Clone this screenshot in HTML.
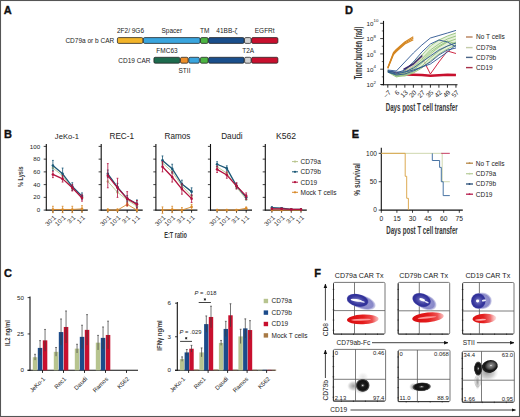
<!DOCTYPE html>
<html><head><meta charset="utf-8"><style>
html,body{margin:0;padding:0;background:#fff;}
svg{display:block;font-family:"Liberation Sans", sans-serif;}
</style></head><body>
<svg width="520" height="417" viewBox="0 0 520 417">
<defs><radialGradient id="gblue" cx="0.38" cy="0.45" r="0.62"><stop offset="0" stop-color="#ffffff"/><stop offset="0.12" stop-color="#d8d8f0"/><stop offset="0.3" stop-color="#6a6ab8"/><stop offset="0.55" stop-color="#38389a"/><stop offset="0.8" stop-color="#5656ac"/><stop offset="1" stop-color="#b4b4dc" stop-opacity="0.5"/></radialGradient><radialGradient id="gred" cx="0.45" cy="0.5" r="0.55"><stop offset="0" stop-color="#ffd0d0"/><stop offset="0.25" stop-color="#f04040"/><stop offset="0.6" stop-color="#e61414"/><stop offset="0.85" stop-color="#e82020"/><stop offset="1" stop-color="#f47070" stop-opacity="0.4"/></radialGradient><radialGradient id="gblk" cx="0.5" cy="0.5" r="0.5"><stop offset="0" stop-color="#ffffff"/><stop offset="0.14" stop-color="#555"/><stop offset="0.3" stop-color="#1a1a1a"/><stop offset="0.7" stop-color="#111"/><stop offset="0.88" stop-color="#555"/><stop offset="1" stop-color="#bbb" stop-opacity="0.2"/></radialGradient><radialGradient id="ghalo" cx="0.5" cy="0.5" r="0.5"><stop offset="0" stop-color="#777" stop-opacity="0.75"/><stop offset="0.6" stop-color="#999" stop-opacity="0.45"/><stop offset="1" stop-color="#ccc" stop-opacity="0"/></radialGradient><marker id="arr" viewBox="0 0 10 10" refX="9" refY="5" markerWidth="5.5" markerHeight="5.5" orient="auto"><path d="M0,1 L10,5 L0,9 z" fill="#111"/></marker><radialGradient id="gdark" cx="0.5" cy="0.5" r="0.5"><stop offset="0" stop-color="#8c8cd0"/><stop offset="0.4" stop-color="#5050ac"/><stop offset="0.7" stop-color="#36369c"/><stop offset="0.88" stop-color="#30309a"/><stop offset="1" stop-color="#4848a6" stop-opacity="0.85"/></radialGradient><radialGradient id="glight" cx="0.5" cy="0.5" r="0.5"><stop offset="0" stop-color="#9c9cd4"/><stop offset="0.8" stop-color="#8888c8"/><stop offset="1" stop-color="#c0c0e4" stop-opacity="0.6"/></radialGradient><linearGradient id="gredL" x1="0" y1="0" x2="1" y2="0"><stop offset="0" stop-color="#d80c10"/><stop offset="0.5" stop-color="#e41c1c"/><stop offset="0.8" stop-color="#ee5050"/><stop offset="1" stop-color="#f6a0a0" stop-opacity="0.7"/></linearGradient><linearGradient id="gredF" x1="0" y1="0" x2="1" y2="0"><stop offset="0" stop-color="#dc1010"/><stop offset="0.45" stop-color="#e42020"/><stop offset="0.75" stop-color="#f06a6a"/><stop offset="1" stop-color="#f8c0c0" stop-opacity="0.5"/></linearGradient><radialGradient id="gcres" cx="0.6" cy="0.45" r="0.6"><stop offset="0" stop-color="#ffffff"/><stop offset="0.12" stop-color="#888"/><stop offset="0.4" stop-color="#555"/><stop offset="0.65" stop-color="#151515"/><stop offset="0.88" stop-color="#222"/><stop offset="1" stop-color="#999" stop-opacity="0.3"/></radialGradient></defs>
<rect x="0" y="0" width="520" height="417" fill="#fff"/>
<text x="3.80" y="13.80" font-size="11" text-anchor="start" font-weight="bold" fill="#111" stroke="#111" stroke-width="0.35">A</text>
<text x="3.90" y="138.10" font-size="11" text-anchor="start" font-weight="bold" fill="#111" stroke="#111" stroke-width="0.35">B</text>
<text x="3.90" y="277.40" font-size="11" text-anchor="start" font-weight="bold" fill="#111" stroke="#111" stroke-width="0.35">C</text>
<text x="345.00" y="13.60" font-size="11" text-anchor="start" font-weight="bold" fill="#111" stroke="#111" stroke-width="0.35">D</text>
<text x="351.80" y="137.90" font-size="11" text-anchor="start" font-weight="bold" fill="#111" stroke="#111" stroke-width="0.35">E</text>
<text x="314.30" y="277.30" font-size="11" text-anchor="start" font-weight="bold" fill="#111" stroke="#111" stroke-width="0.35">F</text>
<rect x="117.40" y="37.60" width="25.50" height="5.80" rx="1.3" fill="#f2b42a" stroke="#222" stroke-width="0.75"/>
<rect x="143.40" y="37.60" width="56.70" height="5.80" rx="1.3" fill="#3aa5de" stroke="#222" stroke-width="0.75"/>
<rect x="200.50" y="37.60" width="7.60" height="5.80" rx="1.3" fill="#4db443" stroke="#222" stroke-width="0.75"/>
<rect x="208.60" y="37.60" width="35.50" height="5.80" rx="1.3" fill="#1a4f8c" stroke="#222" stroke-width="0.75"/>
<rect x="244.50" y="37.60" width="6.60" height="5.80" rx="1.3" fill="#d2d2d2" stroke="#222" stroke-width="0.75"/>
<rect x="251.60" y="37.60" width="26.30" height="5.80" rx="1.3" fill="#c8102e" stroke="#222" stroke-width="0.75"/>
<rect x="153.90" y="57.30" width="25.90" height="5.90" rx="1.3" fill="#1d6b4e" stroke="#222" stroke-width="0.75"/>
<rect x="180.50" y="57.30" width="7.60" height="5.90" rx="1.3" fill="#ec8e2a" stroke="#222" stroke-width="0.75"/>
<rect x="188.80" y="57.30" width="10.60" height="5.90" rx="1.3" fill="#3aa5de" stroke="#222" stroke-width="0.75"/>
<rect x="200.40" y="57.30" width="7.70" height="5.90" rx="1.3" fill="#4db443" stroke="#222" stroke-width="0.75"/>
<rect x="208.60" y="57.30" width="35.50" height="5.90" rx="1.3" fill="#1a4f8c" stroke="#222" stroke-width="0.75"/>
<rect x="244.60" y="57.30" width="6.50" height="5.90" rx="1.3" fill="#d2d2d2" stroke="#222" stroke-width="0.75"/>
<rect x="251.60" y="57.30" width="26.30" height="5.90" rx="1.3" fill="#c8102e" stroke="#222" stroke-width="0.75"/>
<text x="130.50" y="32.80" font-size="6.5" text-anchor="middle" font-weight="normal" fill="#222" >2F2/ 9G6</text>
<text x="171.80" y="32.80" font-size="6.5" text-anchor="middle" font-weight="normal" fill="#222" >Spacer</text>
<text x="204.70" y="32.80" font-size="6.5" text-anchor="middle" font-weight="normal" fill="#222" >TM</text>
<text x="226.80" y="32.80" font-size="6.5" text-anchor="middle" font-weight="normal" fill="#222" >41BB-ζ</text>
<text x="264.70" y="32.80" font-size="6.5" text-anchor="middle" font-weight="normal" fill="#222" >EGFRt</text>
<text x="114.20" y="42.60" font-size="6.5" text-anchor="end" font-weight="normal" fill="#222" >CD79a or b CAR</text>
<text x="167.00" y="52.50" font-size="6.5" text-anchor="middle" font-weight="normal" fill="#222" >FMC63</text>
<text x="248.20" y="52.50" font-size="6.5" text-anchor="middle" font-weight="normal" fill="#222" >T2A</text>
<text x="150.50" y="62.50" font-size="6.5" text-anchor="end" font-weight="normal" fill="#222" >CD19 CAR</text>
<text x="184.50" y="72.50" font-size="6.5" text-anchor="middle" font-weight="normal" fill="#222" >STII</text>
<line x1="46.30" y1="144.00" x2="46.30" y2="210.60" stroke="#111" stroke-width="1.1" />
<line x1="45.80" y1="210.10" x2="87.80" y2="210.10" stroke="#111" stroke-width="1.1" />
<line x1="43.70" y1="210.10" x2="46.30" y2="210.10" stroke="#111" stroke-width="0.8" />
<line x1="43.70" y1="197.36" x2="46.30" y2="197.36" stroke="#111" stroke-width="0.8" />
<line x1="43.70" y1="184.62" x2="46.30" y2="184.62" stroke="#111" stroke-width="0.8" />
<line x1="43.70" y1="171.88" x2="46.30" y2="171.88" stroke="#111" stroke-width="0.8" />
<line x1="43.70" y1="159.14" x2="46.30" y2="159.14" stroke="#111" stroke-width="0.8" />
<line x1="43.70" y1="146.40" x2="46.30" y2="146.40" stroke="#111" stroke-width="0.8" />
<line x1="52.90" y1="210.10" x2="52.90" y2="212.70" stroke="#111" stroke-width="0.9" />
<line x1="62.60" y1="210.10" x2="62.60" y2="212.70" stroke="#111" stroke-width="0.9" />
<line x1="72.30" y1="210.10" x2="72.30" y2="212.70" stroke="#111" stroke-width="0.9" />
<line x1="82.00" y1="210.10" x2="82.00" y2="212.70" stroke="#111" stroke-width="0.9" />
<text x="56.50" y="217.90" font-size="6.3" text-anchor="end" fill="#222" transform="rotate(-45 56.50 217.90)">30:1</text>
<text x="66.20" y="217.90" font-size="6.3" text-anchor="end" fill="#222" transform="rotate(-45 66.20 217.90)">10:1</text>
<text x="75.90" y="217.90" font-size="6.3" text-anchor="end" fill="#222" transform="rotate(-45 75.90 217.90)">3:1</text>
<text x="85.60" y="217.90" font-size="6.3" text-anchor="end" fill="#222" transform="rotate(-45 85.60 217.90)">1:1</text>
<text x="66.90" y="138.80" font-size="7.6" text-anchor="middle" font-weight="normal" fill="#222" >JeKo-1</text>
<line x1="52.90" y1="206.28" x2="52.90" y2="212.65" stroke="#d98a2a" stroke-width="0.8" />
<line x1="52.00" y1="206.28" x2="53.80" y2="206.28" stroke="#d98a2a" stroke-width="0.8" />
<line x1="52.00" y1="212.65" x2="53.80" y2="212.65" stroke="#d98a2a" stroke-width="0.8" />
<line x1="62.60" y1="206.28" x2="62.60" y2="212.65" stroke="#d98a2a" stroke-width="0.8" />
<line x1="61.70" y1="206.28" x2="63.50" y2="206.28" stroke="#d98a2a" stroke-width="0.8" />
<line x1="61.70" y1="212.65" x2="63.50" y2="212.65" stroke="#d98a2a" stroke-width="0.8" />
<line x1="72.30" y1="206.28" x2="72.30" y2="212.65" stroke="#d98a2a" stroke-width="0.8" />
<line x1="71.40" y1="206.28" x2="73.20" y2="206.28" stroke="#d98a2a" stroke-width="0.8" />
<line x1="71.40" y1="212.65" x2="73.20" y2="212.65" stroke="#d98a2a" stroke-width="0.8" />
<line x1="82.00" y1="205.64" x2="82.00" y2="212.01" stroke="#d98a2a" stroke-width="0.8" />
<line x1="81.10" y1="205.64" x2="82.90" y2="205.64" stroke="#d98a2a" stroke-width="0.8" />
<line x1="81.10" y1="212.01" x2="82.90" y2="212.01" stroke="#d98a2a" stroke-width="0.8" />
<polyline points="52.90,209.46 62.60,209.46 72.30,209.46 82.00,208.83" fill="none" stroke="#d98a2a" stroke-width="0.9" stroke-linejoin="round" />
<circle cx="52.90" cy="209.46" r="1.3" fill="#d98a2a"/>
<circle cx="62.60" cy="209.46" r="1.3" fill="#d98a2a"/>
<circle cx="72.30" cy="209.46" r="1.3" fill="#d98a2a"/>
<circle cx="82.00" cy="208.83" r="1.3" fill="#d98a2a"/>
<polyline points="52.90,168.06 62.60,175.70 72.30,188.44 82.00,197.36" fill="none" stroke="#b9c58e" stroke-width="0.9" stroke-linejoin="round" />
<circle cx="52.90" cy="168.06" r="1.3" fill="#b9c58e"/>
<circle cx="62.60" cy="175.70" r="1.3" fill="#b9c58e"/>
<circle cx="72.30" cy="188.44" r="1.3" fill="#b9c58e"/>
<circle cx="82.00" cy="197.36" r="1.3" fill="#b9c58e"/>
<line x1="52.90" y1="160.41" x2="52.90" y2="170.61" stroke="#1b5877" stroke-width="0.8" />
<line x1="52.00" y1="160.41" x2="53.80" y2="160.41" stroke="#1b5877" stroke-width="0.8" />
<line x1="52.00" y1="170.61" x2="53.80" y2="170.61" stroke="#1b5877" stroke-width="0.8" />
<line x1="62.60" y1="168.06" x2="62.60" y2="179.52" stroke="#1b5877" stroke-width="0.8" />
<line x1="61.70" y1="168.06" x2="63.50" y2="168.06" stroke="#1b5877" stroke-width="0.8" />
<line x1="61.70" y1="179.52" x2="63.50" y2="179.52" stroke="#1b5877" stroke-width="0.8" />
<line x1="72.30" y1="182.71" x2="72.30" y2="190.35" stroke="#1b5877" stroke-width="0.8" />
<line x1="71.40" y1="182.71" x2="73.20" y2="182.71" stroke="#1b5877" stroke-width="0.8" />
<line x1="71.40" y1="190.35" x2="73.20" y2="190.35" stroke="#1b5877" stroke-width="0.8" />
<line x1="82.00" y1="192.90" x2="82.00" y2="199.27" stroke="#1b5877" stroke-width="0.8" />
<line x1="81.10" y1="192.90" x2="82.90" y2="192.90" stroke="#1b5877" stroke-width="0.8" />
<line x1="81.10" y1="199.27" x2="82.90" y2="199.27" stroke="#1b5877" stroke-width="0.8" />
<polyline points="52.90,165.51 62.60,173.79 72.30,186.53 82.00,196.09" fill="none" stroke="#1b5877" stroke-width="1.3" stroke-linejoin="round" />
<circle cx="52.90" cy="165.51" r="1.3" fill="#1b5877"/>
<circle cx="62.60" cy="173.79" r="1.3" fill="#1b5877"/>
<circle cx="72.30" cy="186.53" r="1.3" fill="#1b5877"/>
<circle cx="82.00" cy="196.09" r="1.3" fill="#1b5877"/>
<line x1="52.90" y1="171.24" x2="52.90" y2="177.61" stroke="#b3123f" stroke-width="0.8" />
<line x1="52.00" y1="171.24" x2="53.80" y2="171.24" stroke="#b3123f" stroke-width="0.8" />
<line x1="52.00" y1="177.61" x2="53.80" y2="177.61" stroke="#b3123f" stroke-width="0.8" />
<line x1="62.60" y1="175.70" x2="62.60" y2="182.07" stroke="#b3123f" stroke-width="0.8" />
<line x1="61.70" y1="175.70" x2="63.50" y2="175.70" stroke="#b3123f" stroke-width="0.8" />
<line x1="61.70" y1="182.07" x2="63.50" y2="182.07" stroke="#b3123f" stroke-width="0.8" />
<line x1="72.30" y1="184.62" x2="72.30" y2="190.99" stroke="#b3123f" stroke-width="0.8" />
<line x1="71.40" y1="184.62" x2="73.20" y2="184.62" stroke="#b3123f" stroke-width="0.8" />
<line x1="71.40" y1="190.99" x2="73.20" y2="190.99" stroke="#b3123f" stroke-width="0.8" />
<line x1="82.00" y1="194.81" x2="82.00" y2="201.18" stroke="#b3123f" stroke-width="0.8" />
<line x1="81.10" y1="194.81" x2="82.90" y2="194.81" stroke="#b3123f" stroke-width="0.8" />
<line x1="81.10" y1="201.18" x2="82.90" y2="201.18" stroke="#b3123f" stroke-width="0.8" />
<polyline points="52.90,174.43 62.60,178.89 72.30,187.81 82.00,198.00" fill="none" stroke="#b3123f" stroke-width="1.3" stroke-linejoin="round" />
<circle cx="52.90" cy="174.43" r="1.3" fill="#b3123f"/>
<circle cx="62.60" cy="178.89" r="1.3" fill="#b3123f"/>
<circle cx="72.30" cy="187.81" r="1.3" fill="#b3123f"/>
<circle cx="82.00" cy="198.00" r="1.3" fill="#b3123f"/>
<line x1="101.20" y1="144.00" x2="101.20" y2="210.60" stroke="#111" stroke-width="1.1" />
<line x1="100.70" y1="210.10" x2="142.70" y2="210.10" stroke="#111" stroke-width="1.1" />
<line x1="98.60" y1="210.10" x2="101.20" y2="210.10" stroke="#111" stroke-width="0.8" />
<line x1="98.60" y1="197.36" x2="101.20" y2="197.36" stroke="#111" stroke-width="0.8" />
<line x1="98.60" y1="184.62" x2="101.20" y2="184.62" stroke="#111" stroke-width="0.8" />
<line x1="98.60" y1="171.88" x2="101.20" y2="171.88" stroke="#111" stroke-width="0.8" />
<line x1="98.60" y1="159.14" x2="101.20" y2="159.14" stroke="#111" stroke-width="0.8" />
<line x1="98.60" y1="146.40" x2="101.20" y2="146.40" stroke="#111" stroke-width="0.8" />
<line x1="107.80" y1="210.10" x2="107.80" y2="212.70" stroke="#111" stroke-width="0.9" />
<line x1="117.50" y1="210.10" x2="117.50" y2="212.70" stroke="#111" stroke-width="0.9" />
<line x1="127.20" y1="210.10" x2="127.20" y2="212.70" stroke="#111" stroke-width="0.9" />
<line x1="136.90" y1="210.10" x2="136.90" y2="212.70" stroke="#111" stroke-width="0.9" />
<text x="111.40" y="217.90" font-size="6.3" text-anchor="end" fill="#222" transform="rotate(-45 111.40 217.90)">30:1</text>
<text x="121.10" y="217.90" font-size="6.3" text-anchor="end" fill="#222" transform="rotate(-45 121.10 217.90)">10:1</text>
<text x="130.80" y="217.90" font-size="6.3" text-anchor="end" fill="#222" transform="rotate(-45 130.80 217.90)">3:1</text>
<text x="140.50" y="217.90" font-size="6.3" text-anchor="end" fill="#222" transform="rotate(-45 140.50 217.90)">1:1</text>
<text x="121.80" y="138.80" font-size="8.2" text-anchor="middle" font-weight="normal" fill="#222" >REC-1</text>
<line x1="107.80" y1="208.83" x2="107.80" y2="211.37" stroke="#d98a2a" stroke-width="0.8" />
<line x1="106.90" y1="208.83" x2="108.70" y2="208.83" stroke="#d98a2a" stroke-width="0.8" />
<line x1="106.90" y1="211.37" x2="108.70" y2="211.37" stroke="#d98a2a" stroke-width="0.8" />
<line x1="117.50" y1="208.83" x2="117.50" y2="211.37" stroke="#d98a2a" stroke-width="0.8" />
<line x1="116.60" y1="208.83" x2="118.40" y2="208.83" stroke="#d98a2a" stroke-width="0.8" />
<line x1="116.60" y1="211.37" x2="118.40" y2="211.37" stroke="#d98a2a" stroke-width="0.8" />
<line x1="127.20" y1="202.46" x2="127.20" y2="206.28" stroke="#d98a2a" stroke-width="0.8" />
<line x1="126.30" y1="202.46" x2="128.10" y2="202.46" stroke="#d98a2a" stroke-width="0.8" />
<line x1="126.30" y1="206.28" x2="128.10" y2="206.28" stroke="#d98a2a" stroke-width="0.8" />
<line x1="136.90" y1="208.83" x2="136.90" y2="211.37" stroke="#d98a2a" stroke-width="0.8" />
<line x1="136.00" y1="208.83" x2="137.80" y2="208.83" stroke="#d98a2a" stroke-width="0.8" />
<line x1="136.00" y1="211.37" x2="137.80" y2="211.37" stroke="#d98a2a" stroke-width="0.8" />
<polyline points="107.80,210.10 117.50,210.10 127.20,204.37 136.90,210.10" fill="none" stroke="#d98a2a" stroke-width="0.9" stroke-linejoin="round" />
<circle cx="107.80" cy="210.10" r="1.3" fill="#d98a2a"/>
<circle cx="117.50" cy="210.10" r="1.3" fill="#d98a2a"/>
<circle cx="127.20" cy="204.37" r="1.3" fill="#d98a2a"/>
<circle cx="136.90" cy="210.10" r="1.3" fill="#d98a2a"/>
<polyline points="107.80,181.44 117.50,192.26 127.20,199.91 136.90,206.28" fill="none" stroke="#b9c58e" stroke-width="0.9" stroke-linejoin="round" />
<circle cx="107.80" cy="181.44" r="1.3" fill="#b9c58e"/>
<circle cx="117.50" cy="192.26" r="1.3" fill="#b9c58e"/>
<circle cx="127.20" cy="199.91" r="1.3" fill="#b9c58e"/>
<circle cx="136.90" cy="206.28" r="1.3" fill="#b9c58e"/>
<line x1="107.80" y1="169.97" x2="107.80" y2="177.61" stroke="#1b5877" stroke-width="0.8" />
<line x1="106.90" y1="169.97" x2="108.70" y2="169.97" stroke="#1b5877" stroke-width="0.8" />
<line x1="106.90" y1="177.61" x2="108.70" y2="177.61" stroke="#1b5877" stroke-width="0.8" />
<line x1="117.50" y1="183.35" x2="117.50" y2="190.99" stroke="#1b5877" stroke-width="0.8" />
<line x1="116.60" y1="183.35" x2="118.40" y2="183.35" stroke="#1b5877" stroke-width="0.8" />
<line x1="116.60" y1="190.99" x2="118.40" y2="190.99" stroke="#1b5877" stroke-width="0.8" />
<line x1="127.20" y1="195.45" x2="127.20" y2="201.82" stroke="#1b5877" stroke-width="0.8" />
<line x1="126.30" y1="195.45" x2="128.10" y2="195.45" stroke="#1b5877" stroke-width="0.8" />
<line x1="126.30" y1="201.82" x2="128.10" y2="201.82" stroke="#1b5877" stroke-width="0.8" />
<line x1="136.90" y1="199.91" x2="136.90" y2="207.55" stroke="#1b5877" stroke-width="0.8" />
<line x1="136.00" y1="199.91" x2="137.80" y2="199.91" stroke="#1b5877" stroke-width="0.8" />
<line x1="136.00" y1="207.55" x2="137.80" y2="207.55" stroke="#1b5877" stroke-width="0.8" />
<polyline points="107.80,173.79 117.50,187.17 127.20,198.63 136.90,203.73" fill="none" stroke="#1b5877" stroke-width="1.3" stroke-linejoin="round" />
<circle cx="107.80" cy="173.79" r="1.3" fill="#1b5877"/>
<circle cx="117.50" cy="187.17" r="1.3" fill="#1b5877"/>
<circle cx="127.20" cy="198.63" r="1.3" fill="#1b5877"/>
<circle cx="136.90" cy="203.73" r="1.3" fill="#1b5877"/>
<line x1="107.80" y1="163.60" x2="107.80" y2="187.81" stroke="#b3123f" stroke-width="0.8" />
<line x1="106.90" y1="163.60" x2="108.70" y2="163.60" stroke="#b3123f" stroke-width="0.8" />
<line x1="106.90" y1="187.81" x2="108.70" y2="187.81" stroke="#b3123f" stroke-width="0.8" />
<line x1="117.50" y1="178.25" x2="117.50" y2="197.36" stroke="#b3123f" stroke-width="0.8" />
<line x1="116.60" y1="178.25" x2="118.40" y2="178.25" stroke="#b3123f" stroke-width="0.8" />
<line x1="116.60" y1="197.36" x2="118.40" y2="197.36" stroke="#b3123f" stroke-width="0.8" />
<line x1="127.20" y1="191.63" x2="127.20" y2="205.64" stroke="#b3123f" stroke-width="0.8" />
<line x1="126.30" y1="191.63" x2="128.10" y2="191.63" stroke="#b3123f" stroke-width="0.8" />
<line x1="126.30" y1="205.64" x2="128.10" y2="205.64" stroke="#b3123f" stroke-width="0.8" />
<line x1="136.90" y1="200.54" x2="136.90" y2="208.19" stroke="#b3123f" stroke-width="0.8" />
<line x1="136.00" y1="200.54" x2="137.80" y2="200.54" stroke="#b3123f" stroke-width="0.8" />
<line x1="136.00" y1="208.19" x2="137.80" y2="208.19" stroke="#b3123f" stroke-width="0.8" />
<polyline points="107.80,175.70 117.50,187.81 127.20,198.63 136.90,204.37" fill="none" stroke="#b3123f" stroke-width="1.3" stroke-linejoin="round" />
<circle cx="107.80" cy="175.70" r="1.3" fill="#b3123f"/>
<circle cx="117.50" cy="187.81" r="1.3" fill="#b3123f"/>
<circle cx="127.20" cy="198.63" r="1.3" fill="#b3123f"/>
<circle cx="136.90" cy="204.37" r="1.3" fill="#b3123f"/>
<line x1="155.90" y1="144.00" x2="155.90" y2="210.60" stroke="#111" stroke-width="1.1" />
<line x1="155.40" y1="210.10" x2="197.40" y2="210.10" stroke="#111" stroke-width="1.1" />
<line x1="153.30" y1="210.10" x2="155.90" y2="210.10" stroke="#111" stroke-width="0.8" />
<line x1="153.30" y1="197.36" x2="155.90" y2="197.36" stroke="#111" stroke-width="0.8" />
<line x1="153.30" y1="184.62" x2="155.90" y2="184.62" stroke="#111" stroke-width="0.8" />
<line x1="153.30" y1="171.88" x2="155.90" y2="171.88" stroke="#111" stroke-width="0.8" />
<line x1="153.30" y1="159.14" x2="155.90" y2="159.14" stroke="#111" stroke-width="0.8" />
<line x1="153.30" y1="146.40" x2="155.90" y2="146.40" stroke="#111" stroke-width="0.8" />
<line x1="162.50" y1="210.10" x2="162.50" y2="212.70" stroke="#111" stroke-width="0.9" />
<line x1="172.20" y1="210.10" x2="172.20" y2="212.70" stroke="#111" stroke-width="0.9" />
<line x1="181.90" y1="210.10" x2="181.90" y2="212.70" stroke="#111" stroke-width="0.9" />
<line x1="191.60" y1="210.10" x2="191.60" y2="212.70" stroke="#111" stroke-width="0.9" />
<text x="166.10" y="217.90" font-size="6.3" text-anchor="end" fill="#222" transform="rotate(-45 166.10 217.90)">30:1</text>
<text x="175.80" y="217.90" font-size="6.3" text-anchor="end" fill="#222" transform="rotate(-45 175.80 217.90)">10:1</text>
<text x="185.50" y="217.90" font-size="6.3" text-anchor="end" fill="#222" transform="rotate(-45 185.50 217.90)">3:1</text>
<text x="195.20" y="217.90" font-size="6.3" text-anchor="end" fill="#222" transform="rotate(-45 195.20 217.90)">1:1</text>
<text x="177.50" y="138.80" font-size="8.2" text-anchor="middle" font-weight="normal" fill="#222" >Ramos</text>
<line x1="162.50" y1="206.91" x2="162.50" y2="213.28" stroke="#d98a2a" stroke-width="0.8" />
<line x1="161.60" y1="206.91" x2="163.40" y2="206.91" stroke="#d98a2a" stroke-width="0.8" />
<line x1="161.60" y1="213.28" x2="163.40" y2="213.28" stroke="#d98a2a" stroke-width="0.8" />
<line x1="172.20" y1="206.28" x2="172.20" y2="212.65" stroke="#d98a2a" stroke-width="0.8" />
<line x1="171.30" y1="206.28" x2="173.10" y2="206.28" stroke="#d98a2a" stroke-width="0.8" />
<line x1="171.30" y1="212.65" x2="173.10" y2="212.65" stroke="#d98a2a" stroke-width="0.8" />
<line x1="181.90" y1="207.55" x2="181.90" y2="212.65" stroke="#d98a2a" stroke-width="0.8" />
<line x1="181.00" y1="207.55" x2="182.80" y2="207.55" stroke="#d98a2a" stroke-width="0.8" />
<line x1="181.00" y1="212.65" x2="182.80" y2="212.65" stroke="#d98a2a" stroke-width="0.8" />
<line x1="191.60" y1="204.37" x2="191.60" y2="209.46" stroke="#d98a2a" stroke-width="0.8" />
<line x1="190.70" y1="204.37" x2="192.50" y2="204.37" stroke="#d98a2a" stroke-width="0.8" />
<line x1="190.70" y1="209.46" x2="192.50" y2="209.46" stroke="#d98a2a" stroke-width="0.8" />
<polyline points="162.50,210.10 172.20,209.46 181.90,210.10 191.60,206.91" fill="none" stroke="#d98a2a" stroke-width="0.9" stroke-linejoin="round" />
<circle cx="162.50" cy="210.10" r="1.3" fill="#d98a2a"/>
<circle cx="172.20" cy="209.46" r="1.3" fill="#d98a2a"/>
<circle cx="181.90" cy="210.10" r="1.3" fill="#d98a2a"/>
<circle cx="191.60" cy="206.91" r="1.3" fill="#d98a2a"/>
<polyline points="162.50,162.96 172.20,171.88 181.90,185.89 191.60,196.09" fill="none" stroke="#b9c58e" stroke-width="0.9" stroke-linejoin="round" />
<circle cx="162.50" cy="162.96" r="1.3" fill="#b9c58e"/>
<circle cx="172.20" cy="171.88" r="1.3" fill="#b9c58e"/>
<circle cx="181.90" cy="185.89" r="1.3" fill="#b9c58e"/>
<circle cx="191.60" cy="196.09" r="1.3" fill="#b9c58e"/>
<line x1="162.50" y1="155.95" x2="162.50" y2="164.87" stroke="#1b5877" stroke-width="0.8" />
<line x1="161.60" y1="155.95" x2="163.40" y2="155.95" stroke="#1b5877" stroke-width="0.8" />
<line x1="161.60" y1="164.87" x2="163.40" y2="164.87" stroke="#1b5877" stroke-width="0.8" />
<line x1="172.20" y1="164.24" x2="172.20" y2="173.15" stroke="#1b5877" stroke-width="0.8" />
<line x1="171.30" y1="164.24" x2="173.10" y2="164.24" stroke="#1b5877" stroke-width="0.8" />
<line x1="171.30" y1="173.15" x2="173.10" y2="173.15" stroke="#1b5877" stroke-width="0.8" />
<line x1="181.90" y1="180.16" x2="181.90" y2="187.81" stroke="#1b5877" stroke-width="0.8" />
<line x1="181.00" y1="180.16" x2="182.80" y2="180.16" stroke="#1b5877" stroke-width="0.8" />
<line x1="181.00" y1="187.81" x2="182.80" y2="187.81" stroke="#1b5877" stroke-width="0.8" />
<line x1="191.60" y1="187.81" x2="191.60" y2="195.45" stroke="#1b5877" stroke-width="0.8" />
<line x1="190.70" y1="187.81" x2="192.50" y2="187.81" stroke="#1b5877" stroke-width="0.8" />
<line x1="190.70" y1="195.45" x2="192.50" y2="195.45" stroke="#1b5877" stroke-width="0.8" />
<polyline points="162.50,160.41 172.20,168.69 181.90,183.98 191.60,191.63" fill="none" stroke="#1b5877" stroke-width="1.3" stroke-linejoin="round" />
<circle cx="162.50" cy="160.41" r="1.3" fill="#1b5877"/>
<circle cx="172.20" cy="168.69" r="1.3" fill="#1b5877"/>
<circle cx="181.90" cy="183.98" r="1.3" fill="#1b5877"/>
<circle cx="191.60" cy="191.63" r="1.3" fill="#1b5877"/>
<line x1="162.50" y1="161.69" x2="162.50" y2="171.88" stroke="#b3123f" stroke-width="0.8" />
<line x1="161.60" y1="161.69" x2="163.40" y2="161.69" stroke="#b3123f" stroke-width="0.8" />
<line x1="161.60" y1="171.88" x2="163.40" y2="171.88" stroke="#b3123f" stroke-width="0.8" />
<line x1="172.20" y1="171.88" x2="172.20" y2="182.07" stroke="#b3123f" stroke-width="0.8" />
<line x1="171.30" y1="171.88" x2="173.10" y2="171.88" stroke="#b3123f" stroke-width="0.8" />
<line x1="171.30" y1="182.07" x2="173.10" y2="182.07" stroke="#b3123f" stroke-width="0.8" />
<line x1="181.90" y1="183.98" x2="181.90" y2="194.18" stroke="#b3123f" stroke-width="0.8" />
<line x1="181.00" y1="183.98" x2="182.80" y2="183.98" stroke="#b3123f" stroke-width="0.8" />
<line x1="181.00" y1="194.18" x2="182.80" y2="194.18" stroke="#b3123f" stroke-width="0.8" />
<line x1="191.60" y1="194.81" x2="191.60" y2="202.46" stroke="#b3123f" stroke-width="0.8" />
<line x1="190.70" y1="194.81" x2="192.50" y2="194.81" stroke="#b3123f" stroke-width="0.8" />
<line x1="190.70" y1="202.46" x2="192.50" y2="202.46" stroke="#b3123f" stroke-width="0.8" />
<polyline points="162.50,166.78 172.20,176.98 181.90,189.08 191.60,198.63" fill="none" stroke="#b3123f" stroke-width="1.3" stroke-linejoin="round" />
<circle cx="162.50" cy="166.78" r="1.3" fill="#b3123f"/>
<circle cx="172.20" cy="176.98" r="1.3" fill="#b3123f"/>
<circle cx="181.90" cy="189.08" r="1.3" fill="#b3123f"/>
<circle cx="191.60" cy="198.63" r="1.3" fill="#b3123f"/>
<line x1="210.50" y1="144.00" x2="210.50" y2="210.60" stroke="#111" stroke-width="1.1" />
<line x1="210.00" y1="210.10" x2="252.00" y2="210.10" stroke="#111" stroke-width="1.1" />
<line x1="207.90" y1="210.10" x2="210.50" y2="210.10" stroke="#111" stroke-width="0.8" />
<line x1="207.90" y1="197.36" x2="210.50" y2="197.36" stroke="#111" stroke-width="0.8" />
<line x1="207.90" y1="184.62" x2="210.50" y2="184.62" stroke="#111" stroke-width="0.8" />
<line x1="207.90" y1="171.88" x2="210.50" y2="171.88" stroke="#111" stroke-width="0.8" />
<line x1="207.90" y1="159.14" x2="210.50" y2="159.14" stroke="#111" stroke-width="0.8" />
<line x1="207.90" y1="146.40" x2="210.50" y2="146.40" stroke="#111" stroke-width="0.8" />
<line x1="217.10" y1="210.10" x2="217.10" y2="212.70" stroke="#111" stroke-width="0.9" />
<line x1="226.80" y1="210.10" x2="226.80" y2="212.70" stroke="#111" stroke-width="0.9" />
<line x1="236.50" y1="210.10" x2="236.50" y2="212.70" stroke="#111" stroke-width="0.9" />
<line x1="246.20" y1="210.10" x2="246.20" y2="212.70" stroke="#111" stroke-width="0.9" />
<text x="220.70" y="217.90" font-size="6.3" text-anchor="end" fill="#222" transform="rotate(-45 220.70 217.90)">30:1</text>
<text x="230.40" y="217.90" font-size="6.3" text-anchor="end" fill="#222" transform="rotate(-45 230.40 217.90)">10:1</text>
<text x="240.10" y="217.90" font-size="6.3" text-anchor="end" fill="#222" transform="rotate(-45 240.10 217.90)">3:1</text>
<text x="249.80" y="217.90" font-size="6.3" text-anchor="end" fill="#222" transform="rotate(-45 249.80 217.90)">1:1</text>
<text x="231.90" y="138.80" font-size="8.2" text-anchor="middle" font-weight="normal" fill="#222" >Daudi</text>
<line x1="217.10" y1="209.46" x2="217.10" y2="210.74" stroke="#d98a2a" stroke-width="0.8" />
<line x1="216.20" y1="209.46" x2="218.00" y2="209.46" stroke="#d98a2a" stroke-width="0.8" />
<line x1="216.20" y1="210.74" x2="218.00" y2="210.74" stroke="#d98a2a" stroke-width="0.8" />
<line x1="226.80" y1="209.46" x2="226.80" y2="210.74" stroke="#d98a2a" stroke-width="0.8" />
<line x1="225.90" y1="209.46" x2="227.70" y2="209.46" stroke="#d98a2a" stroke-width="0.8" />
<line x1="225.90" y1="210.74" x2="227.70" y2="210.74" stroke="#d98a2a" stroke-width="0.8" />
<line x1="236.50" y1="209.46" x2="236.50" y2="210.74" stroke="#d98a2a" stroke-width="0.8" />
<line x1="235.60" y1="209.46" x2="237.40" y2="209.46" stroke="#d98a2a" stroke-width="0.8" />
<line x1="235.60" y1="210.74" x2="237.40" y2="210.74" stroke="#d98a2a" stroke-width="0.8" />
<line x1="246.20" y1="206.91" x2="246.20" y2="209.46" stroke="#d98a2a" stroke-width="0.8" />
<line x1="245.30" y1="206.91" x2="247.10" y2="206.91" stroke="#d98a2a" stroke-width="0.8" />
<line x1="245.30" y1="209.46" x2="247.10" y2="209.46" stroke="#d98a2a" stroke-width="0.8" />
<polyline points="217.10,210.10 226.80,210.10 236.50,210.10 246.20,208.19" fill="none" stroke="#d98a2a" stroke-width="0.9" stroke-linejoin="round" />
<circle cx="217.10" cy="210.10" r="1.3" fill="#d98a2a"/>
<circle cx="226.80" cy="210.10" r="1.3" fill="#d98a2a"/>
<circle cx="236.50" cy="210.10" r="1.3" fill="#d98a2a"/>
<circle cx="246.20" cy="208.19" r="1.3" fill="#d98a2a"/>
<polyline points="217.10,166.78 226.80,173.15 236.50,187.17 246.20,199.27" fill="none" stroke="#b9c58e" stroke-width="0.9" stroke-linejoin="round" />
<circle cx="217.10" cy="166.78" r="1.3" fill="#b9c58e"/>
<circle cx="226.80" cy="173.15" r="1.3" fill="#b9c58e"/>
<circle cx="236.50" cy="187.17" r="1.3" fill="#b9c58e"/>
<circle cx="246.20" cy="199.27" r="1.3" fill="#b9c58e"/>
<line x1="217.10" y1="161.69" x2="217.10" y2="166.78" stroke="#1b5877" stroke-width="0.8" />
<line x1="216.20" y1="161.69" x2="218.00" y2="161.69" stroke="#1b5877" stroke-width="0.8" />
<line x1="216.20" y1="166.78" x2="218.00" y2="166.78" stroke="#1b5877" stroke-width="0.8" />
<line x1="226.80" y1="165.83" x2="226.80" y2="170.92" stroke="#1b5877" stroke-width="0.8" />
<line x1="225.90" y1="165.83" x2="227.70" y2="165.83" stroke="#1b5877" stroke-width="0.8" />
<line x1="225.90" y1="170.92" x2="227.70" y2="170.92" stroke="#1b5877" stroke-width="0.8" />
<line x1="236.50" y1="183.35" x2="236.50" y2="188.44" stroke="#1b5877" stroke-width="0.8" />
<line x1="235.60" y1="183.35" x2="237.40" y2="183.35" stroke="#1b5877" stroke-width="0.8" />
<line x1="235.60" y1="188.44" x2="237.40" y2="188.44" stroke="#1b5877" stroke-width="0.8" />
<line x1="246.20" y1="194.81" x2="246.20" y2="199.91" stroke="#1b5877" stroke-width="0.8" />
<line x1="245.30" y1="194.81" x2="247.10" y2="194.81" stroke="#1b5877" stroke-width="0.8" />
<line x1="245.30" y1="199.91" x2="247.10" y2="199.91" stroke="#1b5877" stroke-width="0.8" />
<polyline points="217.10,164.24 226.80,168.38 236.50,185.89 246.20,197.36" fill="none" stroke="#1b5877" stroke-width="1.3" stroke-linejoin="round" />
<circle cx="217.10" cy="164.24" r="1.3" fill="#1b5877"/>
<circle cx="226.80" cy="168.38" r="1.3" fill="#1b5877"/>
<circle cx="236.50" cy="185.89" r="1.3" fill="#1b5877"/>
<circle cx="246.20" cy="197.36" r="1.3" fill="#1b5877"/>
<line x1="217.10" y1="166.15" x2="217.10" y2="172.52" stroke="#b3123f" stroke-width="0.8" />
<line x1="216.20" y1="166.15" x2="218.00" y2="166.15" stroke="#b3123f" stroke-width="0.8" />
<line x1="216.20" y1="172.52" x2="218.00" y2="172.52" stroke="#b3123f" stroke-width="0.8" />
<line x1="226.80" y1="171.88" x2="226.80" y2="178.25" stroke="#b3123f" stroke-width="0.8" />
<line x1="225.90" y1="171.88" x2="227.70" y2="171.88" stroke="#b3123f" stroke-width="0.8" />
<line x1="225.90" y1="178.25" x2="227.70" y2="178.25" stroke="#b3123f" stroke-width="0.8" />
<line x1="236.50" y1="182.71" x2="236.50" y2="189.08" stroke="#b3123f" stroke-width="0.8" />
<line x1="235.60" y1="182.71" x2="237.40" y2="182.71" stroke="#b3123f" stroke-width="0.8" />
<line x1="235.60" y1="189.08" x2="237.40" y2="189.08" stroke="#b3123f" stroke-width="0.8" />
<line x1="246.20" y1="192.90" x2="246.20" y2="199.27" stroke="#b3123f" stroke-width="0.8" />
<line x1="245.30" y1="192.90" x2="247.10" y2="192.90" stroke="#b3123f" stroke-width="0.8" />
<line x1="245.30" y1="199.27" x2="247.10" y2="199.27" stroke="#b3123f" stroke-width="0.8" />
<polyline points="217.10,169.33 226.80,175.06 236.50,185.89 246.20,196.09" fill="none" stroke="#b3123f" stroke-width="1.3" stroke-linejoin="round" />
<circle cx="217.10" cy="169.33" r="1.3" fill="#b3123f"/>
<circle cx="226.80" cy="175.06" r="1.3" fill="#b3123f"/>
<circle cx="236.50" cy="185.89" r="1.3" fill="#b3123f"/>
<circle cx="246.20" cy="196.09" r="1.3" fill="#b3123f"/>
<line x1="265.30" y1="144.00" x2="265.30" y2="210.60" stroke="#111" stroke-width="1.1" />
<line x1="264.80" y1="210.10" x2="306.80" y2="210.10" stroke="#111" stroke-width="1.1" />
<line x1="262.70" y1="210.10" x2="265.30" y2="210.10" stroke="#111" stroke-width="0.8" />
<line x1="262.70" y1="197.36" x2="265.30" y2="197.36" stroke="#111" stroke-width="0.8" />
<line x1="262.70" y1="184.62" x2="265.30" y2="184.62" stroke="#111" stroke-width="0.8" />
<line x1="262.70" y1="171.88" x2="265.30" y2="171.88" stroke="#111" stroke-width="0.8" />
<line x1="262.70" y1="159.14" x2="265.30" y2="159.14" stroke="#111" stroke-width="0.8" />
<line x1="262.70" y1="146.40" x2="265.30" y2="146.40" stroke="#111" stroke-width="0.8" />
<line x1="271.90" y1="210.10" x2="271.90" y2="212.70" stroke="#111" stroke-width="0.9" />
<line x1="281.60" y1="210.10" x2="281.60" y2="212.70" stroke="#111" stroke-width="0.9" />
<line x1="291.30" y1="210.10" x2="291.30" y2="212.70" stroke="#111" stroke-width="0.9" />
<line x1="301.00" y1="210.10" x2="301.00" y2="212.70" stroke="#111" stroke-width="0.9" />
<text x="275.50" y="217.90" font-size="6.3" text-anchor="end" fill="#222" transform="rotate(-45 275.50 217.90)">30:1</text>
<text x="285.20" y="217.90" font-size="6.3" text-anchor="end" fill="#222" transform="rotate(-45 285.20 217.90)">10:1</text>
<text x="294.90" y="217.90" font-size="6.3" text-anchor="end" fill="#222" transform="rotate(-45 294.90 217.90)">3:1</text>
<text x="304.60" y="217.90" font-size="6.3" text-anchor="end" fill="#222" transform="rotate(-45 304.60 217.90)">1:1</text>
<text x="286.00" y="138.80" font-size="8.6" text-anchor="middle" font-weight="normal" fill="#222" >K562</text>
<line x1="271.90" y1="209.46" x2="271.90" y2="210.74" stroke="#d98a2a" stroke-width="0.8" />
<line x1="271.00" y1="209.46" x2="272.80" y2="209.46" stroke="#d98a2a" stroke-width="0.8" />
<line x1="271.00" y1="210.74" x2="272.80" y2="210.74" stroke="#d98a2a" stroke-width="0.8" />
<line x1="281.60" y1="209.46" x2="281.60" y2="210.74" stroke="#d98a2a" stroke-width="0.8" />
<line x1="280.70" y1="209.46" x2="282.50" y2="209.46" stroke="#d98a2a" stroke-width="0.8" />
<line x1="280.70" y1="210.74" x2="282.50" y2="210.74" stroke="#d98a2a" stroke-width="0.8" />
<line x1="291.30" y1="209.46" x2="291.30" y2="210.74" stroke="#d98a2a" stroke-width="0.8" />
<line x1="290.40" y1="209.46" x2="292.20" y2="209.46" stroke="#d98a2a" stroke-width="0.8" />
<line x1="290.40" y1="210.74" x2="292.20" y2="210.74" stroke="#d98a2a" stroke-width="0.8" />
<line x1="301.00" y1="209.46" x2="301.00" y2="210.74" stroke="#d98a2a" stroke-width="0.8" />
<line x1="300.10" y1="209.46" x2="301.90" y2="209.46" stroke="#d98a2a" stroke-width="0.8" />
<line x1="300.10" y1="210.74" x2="301.90" y2="210.74" stroke="#d98a2a" stroke-width="0.8" />
<polyline points="271.90,210.10 281.60,210.10 291.30,210.10 301.00,210.10" fill="none" stroke="#d98a2a" stroke-width="0.9" stroke-linejoin="round" />
<circle cx="271.90" cy="210.10" r="1.3" fill="#d98a2a"/>
<circle cx="281.60" cy="210.10" r="1.3" fill="#d98a2a"/>
<circle cx="291.30" cy="210.10" r="1.3" fill="#d98a2a"/>
<circle cx="301.00" cy="210.10" r="1.3" fill="#d98a2a"/>
<polyline points="271.90,208.83 281.60,208.83 291.30,209.46 301.00,209.46" fill="none" stroke="#b9c58e" stroke-width="0.9" stroke-linejoin="round" />
<circle cx="271.90" cy="208.83" r="1.3" fill="#b9c58e"/>
<circle cx="281.60" cy="208.83" r="1.3" fill="#b9c58e"/>
<circle cx="291.30" cy="209.46" r="1.3" fill="#b9c58e"/>
<circle cx="301.00" cy="209.46" r="1.3" fill="#b9c58e"/>
<line x1="271.90" y1="206.91" x2="271.90" y2="208.19" stroke="#1b5877" stroke-width="0.8" />
<line x1="271.00" y1="206.91" x2="272.80" y2="206.91" stroke="#1b5877" stroke-width="0.8" />
<line x1="271.00" y1="208.19" x2="272.80" y2="208.19" stroke="#1b5877" stroke-width="0.8" />
<line x1="281.60" y1="207.55" x2="281.60" y2="208.83" stroke="#1b5877" stroke-width="0.8" />
<line x1="280.70" y1="207.55" x2="282.50" y2="207.55" stroke="#1b5877" stroke-width="0.8" />
<line x1="280.70" y1="208.83" x2="282.50" y2="208.83" stroke="#1b5877" stroke-width="0.8" />
<line x1="291.30" y1="208.83" x2="291.30" y2="210.10" stroke="#1b5877" stroke-width="0.8" />
<line x1="290.40" y1="208.83" x2="292.20" y2="208.83" stroke="#1b5877" stroke-width="0.8" />
<line x1="290.40" y1="210.10" x2="292.20" y2="210.10" stroke="#1b5877" stroke-width="0.8" />
<line x1="301.00" y1="208.83" x2="301.00" y2="210.10" stroke="#1b5877" stroke-width="0.8" />
<line x1="300.10" y1="208.83" x2="301.90" y2="208.83" stroke="#1b5877" stroke-width="0.8" />
<line x1="300.10" y1="210.10" x2="301.90" y2="210.10" stroke="#1b5877" stroke-width="0.8" />
<polyline points="271.90,207.55 281.60,208.19 291.30,209.46 301.00,209.46" fill="none" stroke="#1b5877" stroke-width="1.3" stroke-linejoin="round" />
<circle cx="271.90" cy="207.55" r="1.3" fill="#1b5877"/>
<circle cx="281.60" cy="208.19" r="1.3" fill="#1b5877"/>
<circle cx="291.30" cy="209.46" r="1.3" fill="#1b5877"/>
<circle cx="301.00" cy="209.46" r="1.3" fill="#1b5877"/>
<line x1="271.90" y1="208.19" x2="271.90" y2="209.46" stroke="#b3123f" stroke-width="0.8" />
<line x1="271.00" y1="208.19" x2="272.80" y2="208.19" stroke="#b3123f" stroke-width="0.8" />
<line x1="271.00" y1="209.46" x2="272.80" y2="209.46" stroke="#b3123f" stroke-width="0.8" />
<line x1="281.60" y1="208.19" x2="281.60" y2="209.46" stroke="#b3123f" stroke-width="0.8" />
<line x1="280.70" y1="208.19" x2="282.50" y2="208.19" stroke="#b3123f" stroke-width="0.8" />
<line x1="280.70" y1="209.46" x2="282.50" y2="209.46" stroke="#b3123f" stroke-width="0.8" />
<line x1="291.30" y1="208.83" x2="291.30" y2="210.10" stroke="#b3123f" stroke-width="0.8" />
<line x1="290.40" y1="208.83" x2="292.20" y2="208.83" stroke="#b3123f" stroke-width="0.8" />
<line x1="290.40" y1="210.10" x2="292.20" y2="210.10" stroke="#b3123f" stroke-width="0.8" />
<line x1="301.00" y1="208.83" x2="301.00" y2="210.10" stroke="#b3123f" stroke-width="0.8" />
<line x1="300.10" y1="208.83" x2="301.90" y2="208.83" stroke="#b3123f" stroke-width="0.8" />
<line x1="300.10" y1="210.10" x2="301.90" y2="210.10" stroke="#b3123f" stroke-width="0.8" />
<polyline points="271.90,208.83 281.60,208.83 291.30,209.46 301.00,209.46" fill="none" stroke="#b3123f" stroke-width="1.3" stroke-linejoin="round" />
<circle cx="271.90" cy="208.83" r="1.3" fill="#b3123f"/>
<circle cx="281.60" cy="208.83" r="1.3" fill="#b3123f"/>
<circle cx="291.30" cy="209.46" r="1.3" fill="#b3123f"/>
<circle cx="301.00" cy="209.46" r="1.3" fill="#b3123f"/>
<text x="40.20" y="212.20" font-size="6.2" text-anchor="end" font-weight="normal" fill="#222" >0</text>
<text x="40.20" y="199.46" font-size="6.2" text-anchor="end" font-weight="normal" fill="#222" >20</text>
<text x="40.20" y="186.72" font-size="6.2" text-anchor="end" font-weight="normal" fill="#222" >40</text>
<text x="40.20" y="173.98" font-size="6.2" text-anchor="end" font-weight="normal" fill="#222" >60</text>
<text x="40.20" y="161.24" font-size="6.2" text-anchor="end" font-weight="normal" fill="#222" >80</text>
<text x="40.20" y="148.50" font-size="6.2" text-anchor="end" font-weight="normal" fill="#222" >100</text>
<text x="0" y="0" font-size="7.8" font-weight="bold" text-anchor="middle" fill="#383838" transform="translate(23.3 176.7) rotate(-90)" textLength="20.5" lengthAdjust="spacingAndGlyphs">% Lysis</text>
<text x="175.6" y="238.1" font-size="8.6" font-weight="bold" text-anchor="middle" fill="#383838" textLength="22.6" lengthAdjust="spacingAndGlyphs">E:T ratio</text>
<line x1="292.00" y1="161.60" x2="298.00" y2="161.60" stroke="#b9c58e" stroke-width="1.0" />
<circle cx="295" cy="161.6" r="1.1" fill="#b9c58e"/>
<text x="300.60" y="163.90" font-size="6.5" text-anchor="start" font-weight="normal" fill="#222" >CD79a</text>
<line x1="292.00" y1="171.80" x2="298.00" y2="171.80" stroke="#1b5877" stroke-width="1.0" />
<circle cx="295" cy="171.8" r="1.1" fill="#1b5877"/>
<text x="300.60" y="174.10" font-size="6.5" text-anchor="start" font-weight="normal" fill="#222" >CD79b</text>
<line x1="292.00" y1="182.20" x2="298.00" y2="182.20" stroke="#b3123f" stroke-width="1.0" />
<circle cx="295" cy="182.2" r="1.1" fill="#b3123f"/>
<text x="300.60" y="184.50" font-size="6.5" text-anchor="start" font-weight="normal" fill="#222" >CD19</text>
<line x1="292.00" y1="192.30" x2="298.00" y2="192.30" stroke="#d98a2a" stroke-width="1.0" />
<circle cx="295" cy="192.3" r="1.1" fill="#d98a2a"/>
<text x="300.60" y="194.60" font-size="6.5" text-anchor="start" font-weight="normal" fill="#222" >Mock T cells</text>
<line x1="30.00" y1="296.50" x2="30.00" y2="370.80" stroke="#111" stroke-width="1.1" />
<line x1="27.50" y1="370.30" x2="138.00" y2="370.30" stroke="#111" stroke-width="1.1" />
<line x1="27.60" y1="370.30" x2="30.00" y2="370.30" stroke="#111" stroke-width="0.8" />
<text x="24.00" y="372.40" font-size="6.2" text-anchor="end" font-weight="normal" fill="#222" >0</text>
<line x1="27.60" y1="333.95" x2="30.00" y2="333.95" stroke="#111" stroke-width="0.8" />
<text x="24.00" y="336.05" font-size="6.2" text-anchor="end" font-weight="normal" fill="#222" >25</text>
<line x1="27.60" y1="297.60" x2="30.00" y2="297.60" stroke="#111" stroke-width="0.8" />
<text x="24.00" y="299.70" font-size="6.2" text-anchor="end" font-weight="normal" fill="#222" >50</text>
<rect x="32.80" y="357.21" width="4.50" height="13.09" fill="#b7c48f" />
<line x1="35.05" y1="354.31" x2="35.05" y2="360.12" stroke="#3a3a3a" stroke-width="0.7" />
<line x1="34.15" y1="354.31" x2="35.95" y2="354.31" stroke="#3a3a3a" stroke-width="0.7" />
<rect x="37.80" y="347.91" width="4.50" height="22.39" fill="#1c4b8a" />
<line x1="40.05" y1="340.64" x2="40.05" y2="355.18" stroke="#3a3a3a" stroke-width="0.7" />
<line x1="39.15" y1="340.64" x2="40.95" y2="340.64" stroke="#3a3a3a" stroke-width="0.7" />
<rect x="42.80" y="340.35" width="4.50" height="29.95" fill="#c8102e" />
<line x1="45.05" y1="329.44" x2="45.05" y2="351.25" stroke="#3a3a3a" stroke-width="0.7" />
<line x1="44.15" y1="329.44" x2="45.95" y2="329.44" stroke="#3a3a3a" stroke-width="0.7" />
<line x1="42.50" y1="370.30" x2="42.50" y2="372.90" stroke="#111" stroke-width="0.9" />
<text x="45.60" y="379.40" font-size="6.0" text-anchor="end" fill="#222" transform="rotate(-45 45.60 379.40)">JeKo-1</text>
<rect x="53.80" y="351.83" width="4.50" height="18.47" fill="#b7c48f" />
<line x1="56.05" y1="347.47" x2="56.05" y2="356.20" stroke="#3a3a3a" stroke-width="0.7" />
<line x1="55.15" y1="347.47" x2="56.95" y2="347.47" stroke="#3a3a3a" stroke-width="0.7" />
<rect x="58.80" y="332.06" width="4.50" height="38.24" fill="#1c4b8a" />
<line x1="61.05" y1="318.97" x2="61.05" y2="345.15" stroke="#3a3a3a" stroke-width="0.7" />
<line x1="60.15" y1="318.97" x2="61.95" y2="318.97" stroke="#3a3a3a" stroke-width="0.7" />
<rect x="63.80" y="326.97" width="4.50" height="43.33" fill="#c8102e" />
<line x1="66.05" y1="310.98" x2="66.05" y2="342.96" stroke="#3a3a3a" stroke-width="0.7" />
<line x1="65.15" y1="310.98" x2="66.95" y2="310.98" stroke="#3a3a3a" stroke-width="0.7" />
<line x1="63.50" y1="370.30" x2="63.50" y2="372.90" stroke="#111" stroke-width="0.9" />
<text x="66.60" y="379.40" font-size="6.0" text-anchor="end" fill="#222" transform="rotate(-45 66.60 379.40)">Rec1</text>
<rect x="74.80" y="348.64" width="4.50" height="21.66" fill="#b7c48f" />
<line x1="77.05" y1="344.27" x2="77.05" y2="353.00" stroke="#3a3a3a" stroke-width="0.7" />
<line x1="76.15" y1="344.27" x2="77.95" y2="344.27" stroke="#3a3a3a" stroke-width="0.7" />
<rect x="79.80" y="336.86" width="4.50" height="33.44" fill="#1c4b8a" />
<line x1="82.05" y1="325.23" x2="82.05" y2="348.49" stroke="#3a3a3a" stroke-width="0.7" />
<line x1="81.15" y1="325.23" x2="82.95" y2="325.23" stroke="#3a3a3a" stroke-width="0.7" />
<rect x="84.80" y="329.88" width="4.50" height="40.42" fill="#c8102e" />
<line x1="87.05" y1="314.61" x2="87.05" y2="345.15" stroke="#3a3a3a" stroke-width="0.7" />
<line x1="86.15" y1="314.61" x2="87.95" y2="314.61" stroke="#3a3a3a" stroke-width="0.7" />
<line x1="84.50" y1="370.30" x2="84.50" y2="372.90" stroke="#111" stroke-width="0.9" />
<text x="87.60" y="379.40" font-size="6.0" text-anchor="end" fill="#222" transform="rotate(-45 87.60 379.40)">Daudi</text>
<rect x="95.80" y="342.67" width="4.50" height="27.63" fill="#b7c48f" />
<line x1="98.05" y1="335.40" x2="98.05" y2="349.94" stroke="#3a3a3a" stroke-width="0.7" />
<line x1="97.15" y1="335.40" x2="98.95" y2="335.40" stroke="#3a3a3a" stroke-width="0.7" />
<rect x="100.80" y="337.88" width="4.50" height="32.42" fill="#1c4b8a" />
<line x1="103.05" y1="326.97" x2="103.05" y2="348.78" stroke="#3a3a3a" stroke-width="0.7" />
<line x1="102.15" y1="326.97" x2="103.95" y2="326.97" stroke="#3a3a3a" stroke-width="0.7" />
<rect x="105.80" y="334.97" width="4.50" height="35.33" fill="#c8102e" />
<line x1="108.05" y1="321.15" x2="108.05" y2="348.78" stroke="#3a3a3a" stroke-width="0.7" />
<line x1="107.15" y1="321.15" x2="108.95" y2="321.15" stroke="#3a3a3a" stroke-width="0.7" />
<line x1="105.50" y1="370.30" x2="105.50" y2="372.90" stroke="#111" stroke-width="0.9" />
<text x="108.60" y="379.40" font-size="6.0" text-anchor="end" fill="#222" transform="rotate(-45 108.60 379.40)">Ramos</text>
<line x1="126.50" y1="370.30" x2="126.50" y2="372.90" stroke="#111" stroke-width="0.9" />
<text x="129.60" y="379.40" font-size="6.0" text-anchor="end" fill="#222" transform="rotate(-45 129.60 379.40)">K562</text>
<text x="0" y="0" font-size="7" font-weight="bold" text-anchor="middle" fill="#3a3a3a" transform="translate(10.3 333.1) rotate(-90)" textLength="25.8" lengthAdjust="spacingAndGlyphs">IL2 ng/ml</text>
<line x1="177.30" y1="302.00" x2="177.30" y2="370.80" stroke="#111" stroke-width="1.1" />
<line x1="175.00" y1="370.30" x2="275.60" y2="370.30" stroke="#111" stroke-width="1.1" />
<line x1="175.00" y1="370.30" x2="177.30" y2="370.30" stroke="#111" stroke-width="0.8" />
<text x="170.90" y="372.40" font-size="6.2" text-anchor="end" font-weight="normal" fill="#222" >0</text>
<line x1="175.00" y1="336.75" x2="177.30" y2="336.75" stroke="#111" stroke-width="0.8" />
<text x="170.90" y="338.85" font-size="6.2" text-anchor="end" font-weight="normal" fill="#222" >3</text>
<line x1="175.00" y1="303.20" x2="177.30" y2="303.20" stroke="#111" stroke-width="0.8" />
<text x="170.90" y="305.30" font-size="6.2" text-anchor="end" font-weight="normal" fill="#222" >6</text>
<rect x="179.90" y="359.12" width="4.40" height="11.18" fill="#b7c48f" />
<line x1="182.10" y1="356.88" x2="182.10" y2="361.35" stroke="#3a3a3a" stroke-width="0.7" />
<line x1="181.20" y1="356.88" x2="183.00" y2="356.88" stroke="#3a3a3a" stroke-width="0.7" />
<rect x="184.60" y="352.41" width="4.40" height="17.89" fill="#1c4b8a" />
<line x1="186.80" y1="349.50" x2="186.80" y2="355.31" stroke="#3a3a3a" stroke-width="0.7" />
<line x1="185.90" y1="349.50" x2="187.70" y2="349.50" stroke="#3a3a3a" stroke-width="0.7" />
<rect x="189.30" y="348.72" width="4.40" height="21.58" fill="#c8102e" />
<line x1="191.50" y1="345.36" x2="191.50" y2="352.07" stroke="#3a3a3a" stroke-width="0.7" />
<line x1="190.60" y1="345.36" x2="192.40" y2="345.36" stroke="#3a3a3a" stroke-width="0.7" />
<rect x="194.00" y="369.63" width="4.40" height="0.67" fill="#a87a45" />
<line x1="188.60" y1="370.30" x2="188.60" y2="372.90" stroke="#111" stroke-width="0.9" />
<text x="185.70" y="379.40" font-size="6.0" text-anchor="end" fill="#222" transform="rotate(-45 185.70 379.40)">JeKo-1</text>
<rect x="199.40" y="352.41" width="4.40" height="17.89" fill="#b7c48f" />
<line x1="201.60" y1="347.93" x2="201.60" y2="356.88" stroke="#3a3a3a" stroke-width="0.7" />
<line x1="200.70" y1="347.93" x2="202.50" y2="347.93" stroke="#3a3a3a" stroke-width="0.7" />
<rect x="204.10" y="324.11" width="4.40" height="46.19" fill="#1c4b8a" />
<line x1="206.30" y1="315.95" x2="206.30" y2="332.28" stroke="#3a3a3a" stroke-width="0.7" />
<line x1="205.40" y1="315.95" x2="207.20" y2="315.95" stroke="#3a3a3a" stroke-width="0.7" />
<rect x="208.80" y="316.96" width="4.40" height="53.34" fill="#c8102e" />
<line x1="211.00" y1="306.22" x2="211.00" y2="327.69" stroke="#3a3a3a" stroke-width="0.7" />
<line x1="210.10" y1="306.22" x2="211.90" y2="306.22" stroke="#3a3a3a" stroke-width="0.7" />
<rect x="213.50" y="369.63" width="4.40" height="0.67" fill="#a87a45" />
<line x1="208.10" y1="370.30" x2="208.10" y2="372.90" stroke="#111" stroke-width="0.9" />
<text x="206.10" y="379.40" font-size="6.0" text-anchor="end" fill="#222" transform="rotate(-45 206.10 379.40)">Rec1</text>
<rect x="218.90" y="342.90" width="4.40" height="27.40" fill="#b7c48f" />
<line x1="221.10" y1="340.44" x2="221.10" y2="345.36" stroke="#3a3a3a" stroke-width="0.7" />
<line x1="220.20" y1="340.44" x2="222.00" y2="340.44" stroke="#3a3a3a" stroke-width="0.7" />
<rect x="223.60" y="328.92" width="4.40" height="41.38" fill="#1c4b8a" />
<line x1="225.80" y1="321.32" x2="225.80" y2="336.53" stroke="#3a3a3a" stroke-width="0.7" />
<line x1="224.90" y1="321.32" x2="226.70" y2="321.32" stroke="#3a3a3a" stroke-width="0.7" />
<rect x="228.30" y="315.28" width="4.40" height="55.02" fill="#c8102e" />
<line x1="230.50" y1="303.76" x2="230.50" y2="326.80" stroke="#3a3a3a" stroke-width="0.7" />
<line x1="229.60" y1="303.76" x2="231.40" y2="303.76" stroke="#3a3a3a" stroke-width="0.7" />
<rect x="233.00" y="369.80" width="4.40" height="0.50" fill="#a87a45" />
<line x1="227.60" y1="370.30" x2="227.60" y2="372.90" stroke="#111" stroke-width="0.9" />
<text x="228.50" y="379.40" font-size="6.0" text-anchor="end" fill="#222" transform="rotate(-45 228.50 379.40)">Daudi</text>
<rect x="238.40" y="336.41" width="4.40" height="33.89" fill="#b7c48f" />
<line x1="240.60" y1="329.26" x2="240.60" y2="343.57" stroke="#3a3a3a" stroke-width="0.7" />
<line x1="239.70" y1="329.26" x2="241.50" y2="329.26" stroke="#3a3a3a" stroke-width="0.7" />
<rect x="243.10" y="328.36" width="4.40" height="41.94" fill="#1c4b8a" />
<line x1="245.30" y1="318.86" x2="245.30" y2="337.87" stroke="#3a3a3a" stroke-width="0.7" />
<line x1="244.40" y1="318.86" x2="246.20" y2="318.86" stroke="#3a3a3a" stroke-width="0.7" />
<rect x="247.80" y="330.04" width="4.40" height="40.26" fill="#c8102e" />
<line x1="250.00" y1="320.65" x2="250.00" y2="339.43" stroke="#3a3a3a" stroke-width="0.7" />
<line x1="249.10" y1="320.65" x2="250.90" y2="320.65" stroke="#3a3a3a" stroke-width="0.7" />
<rect x="252.50" y="369.80" width="4.40" height="0.50" fill="#a87a45" />
<line x1="247.10" y1="370.30" x2="247.10" y2="372.90" stroke="#111" stroke-width="0.9" />
<text x="248.70" y="379.40" font-size="6.0" text-anchor="end" fill="#222" transform="rotate(-45 248.70 379.40)">Ramos</text>
<rect x="257.90" y="369.80" width="4.40" height="0.50" fill="#b7c48f" />
<rect x="262.60" y="369.80" width="4.40" height="0.50" fill="#1c4b8a" />
<rect x="267.30" y="369.80" width="4.40" height="0.50" fill="#c8102e" />
<rect x="272.00" y="369.80" width="4.40" height="0.50" fill="#a87a45" />
<line x1="266.60" y1="370.30" x2="266.60" y2="372.90" stroke="#111" stroke-width="0.9" />
<text x="270.40" y="379.40" font-size="6.0" text-anchor="end" fill="#222" transform="rotate(-45 270.40 379.40)">K562</text>
<text x="0" y="0" font-size="7" font-weight="bold" text-anchor="middle" fill="#3a3a3a" transform="translate(161.7 335.5) rotate(-90)" textLength="30.3" lengthAdjust="spacingAndGlyphs">IFNγ ng/ml</text>
<text x="190.50" y="333.50" font-size="5.8" text-anchor="middle" font-weight="normal" fill="#222" ><tspan font-style="italic">P</tspan> = .029</text>
<line x1="180.10" y1="341.40" x2="192.00" y2="341.40" stroke="#111" stroke-width="0.8" />
<line x1="186.20" y1="337.00" x2="186.20" y2="339.40" stroke="#111" stroke-width="0.75" />
<line x1="185.16" y1="337.60" x2="187.24" y2="338.80" stroke="#111" stroke-width="0.75" />
<line x1="187.24" y1="337.60" x2="185.16" y2="338.80" stroke="#111" stroke-width="0.75" />
<text x="205.50" y="294.50" font-size="5.8" text-anchor="middle" font-weight="normal" fill="#222" ><tspan font-style="italic">P</tspan> = .018</text>
<line x1="198.70" y1="302.50" x2="210.90" y2="302.50" stroke="#111" stroke-width="0.8" />
<line x1="204.90" y1="298.20" x2="204.90" y2="300.60" stroke="#111" stroke-width="0.75" />
<line x1="203.86" y1="298.80" x2="205.94" y2="300.00" stroke="#111" stroke-width="0.75" />
<line x1="205.94" y1="298.80" x2="203.86" y2="300.00" stroke="#111" stroke-width="0.75" />
<rect x="263.70" y="298.80" width="4.40" height="4.40" fill="#b7c48f" />
<text x="271.60" y="303.30" font-size="6.5" text-anchor="start" font-weight="normal" fill="#222" >CD79a</text>
<rect x="263.70" y="310.40" width="4.40" height="4.40" fill="#1c4b8a" />
<text x="271.60" y="314.90" font-size="6.5" text-anchor="start" font-weight="normal" fill="#222" >CD79b</text>
<rect x="263.70" y="321.80" width="4.40" height="4.40" fill="#c8102e" />
<text x="271.60" y="326.30" font-size="6.5" text-anchor="start" font-weight="normal" fill="#222" >CD19</text>
<rect x="263.70" y="333.20" width="4.40" height="4.40" fill="#a87a45" />
<text x="271.60" y="337.70" font-size="6.5" text-anchor="start" font-weight="normal" fill="#222" >Mock T cells</text>
<line x1="383.50" y1="20.90" x2="383.50" y2="85.30" stroke="#111" stroke-width="1.1" />
<line x1="381.20" y1="84.80" x2="457.50" y2="84.80" stroke="#111" stroke-width="1.1" />
<line x1="380.20" y1="23.30" x2="383.50" y2="23.30" stroke="#111" stroke-width="0.8" />
<text x="373.5" y="25.90" font-size="6.2" text-anchor="end" fill="#222">10</text>
<text x="373.6" y="22.40" font-size="4.4" text-anchor="start" fill="#222">10</text>
<line x1="381.80" y1="30.95" x2="383.50" y2="30.95" stroke="#111" stroke-width="0.6" />
<line x1="380.20" y1="38.60" x2="383.50" y2="38.60" stroke="#111" stroke-width="0.8" />
<text x="373.5" y="41.20" font-size="6.2" text-anchor="end" fill="#222">10</text>
<text x="373.6" y="37.70" font-size="4.4" text-anchor="start" fill="#222">8</text>
<line x1="381.80" y1="46.25" x2="383.50" y2="46.25" stroke="#111" stroke-width="0.6" />
<line x1="380.20" y1="53.90" x2="383.50" y2="53.90" stroke="#111" stroke-width="0.8" />
<text x="373.5" y="56.50" font-size="6.2" text-anchor="end" fill="#222">10</text>
<text x="373.6" y="53.00" font-size="4.4" text-anchor="start" fill="#222">6</text>
<line x1="381.80" y1="61.55" x2="383.50" y2="61.55" stroke="#111" stroke-width="0.6" />
<line x1="380.20" y1="69.20" x2="383.50" y2="69.20" stroke="#111" stroke-width="0.8" />
<text x="373.5" y="71.80" font-size="6.2" text-anchor="end" fill="#222">10</text>
<text x="373.6" y="68.30" font-size="4.4" text-anchor="start" fill="#222">4</text>
<line x1="381.80" y1="76.85" x2="383.50" y2="76.85" stroke="#111" stroke-width="0.6" />
<line x1="380.20" y1="84.50" x2="383.50" y2="84.50" stroke="#111" stroke-width="0.8" />
<text x="373.5" y="87.10" font-size="6.2" text-anchor="end" fill="#222">10</text>
<text x="373.6" y="83.60" font-size="4.4" text-anchor="start" fill="#222">2</text>
<line x1="387.80" y1="84.80" x2="387.80" y2="87.70" stroke="#111" stroke-width="0.9" />
<text x="391.20" y="93.00" font-size="6.5" text-anchor="end" fill="#222" transform="rotate(-45 391.20 93.00)">–7</text>
<line x1="396.32" y1="84.80" x2="396.32" y2="87.70" stroke="#111" stroke-width="0.9" />
<text x="399.72" y="93.00" font-size="6.5" text-anchor="end" fill="#222" transform="rotate(-45 399.72 93.00)">6</text>
<line x1="404.84" y1="84.80" x2="404.84" y2="87.70" stroke="#111" stroke-width="0.9" />
<text x="408.24" y="93.00" font-size="6.5" text-anchor="end" fill="#222" transform="rotate(-45 408.24 93.00)">13</text>
<line x1="413.36" y1="84.80" x2="413.36" y2="87.70" stroke="#111" stroke-width="0.9" />
<text x="416.76" y="93.00" font-size="6.5" text-anchor="end" fill="#222" transform="rotate(-45 416.76 93.00)">20</text>
<line x1="421.88" y1="84.80" x2="421.88" y2="87.70" stroke="#111" stroke-width="0.9" />
<text x="425.28" y="93.00" font-size="6.5" text-anchor="end" fill="#222" transform="rotate(-45 425.28 93.00)">27</text>
<line x1="430.40" y1="84.80" x2="430.40" y2="87.70" stroke="#111" stroke-width="0.9" />
<text x="433.80" y="93.00" font-size="6.5" text-anchor="end" fill="#222" transform="rotate(-45 433.80 93.00)">35</text>
<line x1="438.92" y1="84.80" x2="438.92" y2="87.70" stroke="#111" stroke-width="0.9" />
<text x="442.32" y="93.00" font-size="6.5" text-anchor="end" fill="#222" transform="rotate(-45 442.32 93.00)">42</text>
<line x1="447.44" y1="84.80" x2="447.44" y2="87.70" stroke="#111" stroke-width="0.9" />
<text x="450.84" y="93.00" font-size="6.5" text-anchor="end" fill="#222" transform="rotate(-45 450.84 93.00)">49</text>
<line x1="455.96" y1="84.80" x2="455.96" y2="87.70" stroke="#111" stroke-width="0.9" />
<text x="459.36" y="93.00" font-size="6.5" text-anchor="end" fill="#222" transform="rotate(-45 459.36 93.00)">57</text>
<polyline points="396.32,73.50 404.84,74.50 413.36,74.80 421.88,75.00 430.40,75.80 438.92,75.20 447.44,74.80 455.96,75.00" fill="none" stroke="#c8102e" stroke-width="2.4" stroke-linejoin="round" stroke-opacity="1"/>
<polyline points="387.80,71.00 396.32,73.00 404.84,74.00" fill="none" stroke="#c8102e" stroke-width="1.0" stroke-linejoin="round" stroke-opacity="1"/>
<polyline points="404.84,71.00 413.36,66.00 421.88,57.00 430.40,74.00 438.92,62.00 447.44,51.00 455.96,53.50" fill="none" stroke="#c8102e" stroke-width="0.9" stroke-linejoin="round" stroke-opacity="1"/>
<polygon points="387.80,72 396.32,77 404.84,76 413.36,73 421.88,68 430.40,61 438.92,54 447.44,49 455.96,45 455.96,33 447.44,36 438.92,40 430.40,46 421.88,55 413.36,63 404.84,71 396.32,74 387.80,70" fill="#dcebcc" fill-opacity="0.75"/>
<polyline points="387.80,71.00 396.32,74.00 404.84,71.00 413.36,63.00 421.88,55.00 430.40,46.00 438.92,40.00 447.44,36.00 455.96,33.00" fill="none" stroke="#93c27c" stroke-width="0.9" stroke-linejoin="round" stroke-opacity="1"/>
<polyline points="387.80,72.00 396.32,75.00 404.84,73.00 413.36,67.00 421.88,59.00 430.40,50.00 438.92,44.00 447.44,39.00 455.96,36.00" fill="none" stroke="#93c27c" stroke-width="0.9" stroke-linejoin="round" stroke-opacity="1"/>
<polyline points="387.80,70.00 396.32,76.00 404.84,74.00 413.36,70.00 421.88,63.00 430.40,54.00 438.92,47.00 447.44,42.00 455.96,39.00" fill="none" stroke="#93c27c" stroke-width="0.9" stroke-linejoin="round" stroke-opacity="1"/>
<polyline points="387.80,72.00 396.32,77.00 404.84,75.00 413.36,72.00 421.88,66.00 430.40,58.00 438.92,51.00 447.44,46.00 455.96,42.00" fill="none" stroke="#93c27c" stroke-width="0.9" stroke-linejoin="round" stroke-opacity="1"/>
<polyline points="387.80,71.00 396.32,76.00 404.84,76.00 413.36,73.00 421.88,68.00 430.40,61.00 438.92,54.00 447.44,49.00 455.96,45.00" fill="none" stroke="#93c27c" stroke-width="0.9" stroke-linejoin="round" stroke-opacity="1"/>
<polyline points="387.80,72.00 396.32,75.00 404.84,74.00 413.36,69.00 421.88,61.00 430.40,52.00 438.92,46.00 447.44,41.00 455.96,44.00" fill="none" stroke="#93c27c" stroke-width="0.9" stroke-linejoin="round" stroke-opacity="1"/>
<polyline points="387.80,70.00 396.32,71.00 404.84,62.00 413.36,53.00 421.88,45.00 430.40,38.00 438.92,35.50 447.44,33.00 455.96,30.40" fill="none" stroke="#2b5590" stroke-width="0.9" stroke-linejoin="round" stroke-opacity="1"/>
<polyline points="387.80,71.00 396.32,73.00 404.84,70.00 413.36,62.00 421.88,52.00 430.40,44.00 438.92,40.00 447.44,42.00 455.96,47.00" fill="none" stroke="#2b5590" stroke-width="0.9" stroke-linejoin="round" stroke-opacity="1"/>
<polyline points="387.80,72.00 396.32,74.00 404.84,72.00 413.36,68.00 421.88,62.00 430.40,56.00 438.92,50.00 447.44,46.00 455.96,43.00" fill="none" stroke="#2b5590" stroke-width="0.9" stroke-linejoin="round" stroke-opacity="1"/>
<polyline points="387.80,71.00 396.32,72.00 404.84,72.00 413.36,70.00 421.88,67.00 430.40,62.00 438.92,55.00 447.44,50.00 455.96,48.00" fill="none" stroke="#2b5590" stroke-width="0.9" stroke-linejoin="round" stroke-opacity="1"/>
<polyline points="387.80,72.00 396.32,75.00 404.84,74.00 413.36,71.00 421.88,67.00 430.40,64.00 438.92,58.00 447.44,52.00 455.96,45.00" fill="none" stroke="#2b5590" stroke-width="0.9" stroke-linejoin="round" stroke-opacity="1"/>
<polyline points="403.50,69.50 413.30,64.00 422.30,55.50" fill="none" stroke="#3b2b70" stroke-width="1.5" stroke-linejoin="round" />
<polyline points="387.80,67.50 393.50,52.50 396.30,49.50 404.80,42.00 413.30,36.80" fill="none" stroke="#d4851f" stroke-width="1.1" stroke-linejoin="round" />
<polyline points="387.80,68.50 393.50,54.50 396.30,51.50 404.80,44.00 413.30,39.80" fill="none" stroke="#d4851f" stroke-width="1.1" stroke-linejoin="round" />
<polyline points="387.80,68.00 393.50,53.50 396.30,50.50 404.80,43.00 413.30,38.30" fill="none" stroke="#d4851f" stroke-width="1.1" stroke-linejoin="round" />
<text x="0" y="0" font-size="10" font-weight="bold" text-anchor="middle" fill="#383838" transform="translate(362.4 52.9) rotate(-90)" textLength="52.6" lengthAdjust="spacingAndGlyphs">Tumor burden (rad)</text>
<text x="421.7" y="110.8" font-size="10.2" font-weight="bold" text-anchor="middle" fill="#383838" textLength="72" lengthAdjust="spacingAndGlyphs">Days post T cell transfer</text>
<line x1="466.00" y1="37.00" x2="472.60" y2="37.00" stroke="#b8805a" stroke-width="1.4" />
<text x="476.00" y="39.30" font-size="6.5" text-anchor="start" font-weight="normal" fill="#222" >No T cells</text>
<line x1="466.00" y1="47.60" x2="472.60" y2="47.60" stroke="#c4cca8" stroke-width="1.4" />
<text x="476.00" y="49.90" font-size="6.5" text-anchor="start" font-weight="normal" fill="#222" >CD79a</text>
<line x1="466.00" y1="57.40" x2="472.60" y2="57.40" stroke="#4a6488" stroke-width="1.4" />
<text x="476.00" y="59.70" font-size="6.5" text-anchor="start" font-weight="normal" fill="#222" >CD79b</text>
<line x1="466.00" y1="67.60" x2="472.60" y2="67.60" stroke="#a83048" stroke-width="1.4" />
<text x="476.00" y="69.90" font-size="6.5" text-anchor="start" font-weight="normal" fill="#222" >CD19</text>
<line x1="381.30" y1="147.70" x2="381.30" y2="210.60" stroke="#111" stroke-width="1.1" />
<line x1="380.80" y1="210.10" x2="462.80" y2="210.10" stroke="#111" stroke-width="1.1" />
<line x1="378.70" y1="210.10" x2="381.30" y2="210.10" stroke="#111" stroke-width="0.8" />
<text x="376.90" y="212.40" font-size="6.5" text-anchor="end" font-weight="normal" fill="#222" >0</text>
<line x1="378.70" y1="181.72" x2="381.30" y2="181.72" stroke="#111" stroke-width="0.8" />
<text x="376.90" y="184.02" font-size="6.5" text-anchor="end" font-weight="normal" fill="#222" >50</text>
<line x1="378.70" y1="153.34" x2="381.30" y2="153.34" stroke="#111" stroke-width="0.8" />
<text x="376.90" y="155.64" font-size="6.5" text-anchor="end" font-weight="normal" fill="#222" >100</text>
<line x1="381.30" y1="210.10" x2="381.30" y2="212.80" stroke="#111" stroke-width="0.8" />
<text x="381.30" y="221.00" font-size="6.7" text-anchor="middle" font-weight="normal" fill="#222" >0</text>
<line x1="396.90" y1="210.10" x2="396.90" y2="212.80" stroke="#111" stroke-width="0.8" />
<text x="396.90" y="221.00" font-size="6.7" text-anchor="middle" font-weight="normal" fill="#222" >15</text>
<line x1="412.50" y1="210.10" x2="412.50" y2="212.80" stroke="#111" stroke-width="0.8" />
<text x="412.50" y="221.00" font-size="6.7" text-anchor="middle" font-weight="normal" fill="#222" >30</text>
<line x1="428.10" y1="210.10" x2="428.10" y2="212.80" stroke="#111" stroke-width="0.8" />
<text x="428.10" y="221.00" font-size="6.7" text-anchor="middle" font-weight="normal" fill="#222" >45</text>
<line x1="443.70" y1="210.10" x2="443.70" y2="212.80" stroke="#111" stroke-width="0.8" />
<text x="443.70" y="221.00" font-size="6.7" text-anchor="middle" font-weight="normal" fill="#222" >60</text>
<line x1="459.30" y1="210.10" x2="459.30" y2="212.80" stroke="#111" stroke-width="0.8" />
<text x="459.30" y="221.00" font-size="6.7" text-anchor="middle" font-weight="normal" fill="#222" >75</text>
<polyline points="381.30,153.34 442.20,153.34 442.20,181.72 449.80,181.72" fill="none" stroke="#c9d2a6" stroke-width="0.9" stroke-linejoin="round" />
<polyline points="441.30,153.34 449.80,153.34" fill="none" stroke="#c02850" stroke-width="0.9" stroke-linejoin="round" />
<polyline points="432.30,153.34 432.30,160.50 439.60,160.50 439.60,167.40 441.30,167.40 441.30,181.72 443.20,181.72 443.20,195.60 449.80,195.60" fill="none" stroke="#34649a" stroke-width="0.9" stroke-linejoin="round" />
<polyline points="381.30,153.34 405.20,153.34 405.20,176.30 406.70,176.30 406.70,198.30 408.40,198.30 408.40,210.10" fill="none" stroke="#d9a040" stroke-width="0.9" stroke-linejoin="round" />
<text x="0" y="0" font-size="9" font-weight="bold" text-anchor="middle" fill="#383838" transform="translate(360.0 179.4) rotate(-90)" textLength="32.7" lengthAdjust="spacingAndGlyphs">% survival</text>
<text x="422.0" y="233.6" font-size="10.4" font-weight="bold" text-anchor="middle" fill="#383838" textLength="71.5" lengthAdjust="spacingAndGlyphs">Days post T cell transfer</text>
<line x1="466.00" y1="163.20" x2="473.00" y2="163.20" stroke="#b88a4a" stroke-width="1.3" />
<circle cx="469.5" cy="163.2" r="0.9" fill="#b88a4a"/>
<text x="475.80" y="165.50" font-size="6.5" text-anchor="start" font-weight="normal" fill="#222" >No T cells</text>
<line x1="466.00" y1="173.70" x2="473.00" y2="173.70" stroke="#bcd0a0" stroke-width="1.3" />
<circle cx="469.5" cy="173.7" r="0.9" fill="#bcd0a0"/>
<text x="475.80" y="176.00" font-size="6.5" text-anchor="start" font-weight="normal" fill="#222" >CD79a</text>
<line x1="466.00" y1="184.00" x2="473.00" y2="184.00" stroke="#2b4f78" stroke-width="1.3" />
<circle cx="469.5" cy="184.0" r="0.9" fill="#2b4f78"/>
<text x="475.80" y="186.30" font-size="6.5" text-anchor="start" font-weight="normal" fill="#222" >CD79b</text>
<line x1="466.00" y1="194.20" x2="473.00" y2="194.20" stroke="#b82050" stroke-width="1.3" />
<circle cx="469.5" cy="194.2" r="0.9" fill="#b82050"/>
<text x="475.80" y="196.50" font-size="6.5" text-anchor="start" font-weight="normal" fill="#222" >CD19</text>
<text x="359.20" y="277.80" font-size="7.1" text-anchor="middle" font-weight="normal" fill="#222" >CD79a CAR Tx</text>
<rect x="333.50" y="282.40" width="51.50" height="51.70" rx="1.2" fill="none" stroke="#666" stroke-width="0.9"/>
<line x1="333.50" y1="283.40" x2="333.50" y2="334.10" stroke="#333" stroke-width="1.0" />
<line x1="333.50" y1="334.10" x2="384.00" y2="334.10" stroke="#333" stroke-width="1.0" />
<line x1="354.50" y1="282.40" x2="354.50" y2="334.10" stroke="#5a5a5a" stroke-width="0.8" />
<line x1="333.50" y1="310.60" x2="385.00" y2="310.60" stroke="#5a5a5a" stroke-width="0.8" />
<line x1="332.70" y1="289.40" x2="334.30" y2="289.40" stroke="#222" stroke-width="0.7" />
<line x1="332.70" y1="299.60" x2="334.30" y2="299.60" stroke="#222" stroke-width="0.7" />
<line x1="332.70" y1="309.80" x2="334.30" y2="309.80" stroke="#222" stroke-width="0.7" />
<line x1="332.70" y1="320.00" x2="334.30" y2="320.00" stroke="#222" stroke-width="0.7" />
<line x1="332.70" y1="330.20" x2="334.30" y2="330.20" stroke="#222" stroke-width="0.7" />
<line x1="341.50" y1="333.50" x2="341.50" y2="335.00" stroke="#222" stroke-width="0.7" />
<line x1="353.50" y1="333.50" x2="353.50" y2="335.00" stroke="#222" stroke-width="0.7" />
<line x1="365.50" y1="333.50" x2="365.50" y2="335.00" stroke="#222" stroke-width="0.7" />
<line x1="377.50" y1="333.50" x2="377.50" y2="335.00" stroke="#222" stroke-width="0.7" />
<rect x="333.40" y="349.40" width="52.20" height="51.70" rx="1.2" fill="none" stroke="#666" stroke-width="0.9"/>
<line x1="333.40" y1="350.40" x2="333.40" y2="401.10" stroke="#333" stroke-width="1.0" />
<line x1="333.40" y1="401.10" x2="384.60" y2="401.10" stroke="#333" stroke-width="1.0" />
<line x1="355.50" y1="349.40" x2="355.50" y2="401.10" stroke="#5a5a5a" stroke-width="0.8" />
<line x1="333.40" y1="379.30" x2="385.60" y2="379.30" stroke="#5a5a5a" stroke-width="0.8" />
<line x1="332.60" y1="356.40" x2="334.20" y2="356.40" stroke="#222" stroke-width="0.7" />
<line x1="332.60" y1="366.60" x2="334.20" y2="366.60" stroke="#222" stroke-width="0.7" />
<line x1="332.60" y1="376.80" x2="334.20" y2="376.80" stroke="#222" stroke-width="0.7" />
<line x1="332.60" y1="387.00" x2="334.20" y2="387.00" stroke="#222" stroke-width="0.7" />
<line x1="332.60" y1="397.20" x2="334.20" y2="397.20" stroke="#222" stroke-width="0.7" />
<line x1="341.40" y1="400.50" x2="341.40" y2="402.00" stroke="#222" stroke-width="0.7" />
<line x1="353.40" y1="400.50" x2="353.40" y2="402.00" stroke="#222" stroke-width="0.7" />
<line x1="365.40" y1="400.50" x2="365.40" y2="402.00" stroke="#222" stroke-width="0.7" />
<line x1="377.40" y1="400.50" x2="377.40" y2="402.00" stroke="#222" stroke-width="0.7" />
<text x="423.70" y="277.80" font-size="7.1" text-anchor="middle" font-weight="normal" fill="#222" >CD79b CAR Tx</text>
<rect x="398.20" y="282.40" width="51.50" height="51.70" rx="1.2" fill="none" stroke="#666" stroke-width="0.9"/>
<line x1="398.20" y1="283.40" x2="398.20" y2="334.10" stroke="#333" stroke-width="1.0" />
<line x1="398.20" y1="334.10" x2="448.70" y2="334.10" stroke="#333" stroke-width="1.0" />
<line x1="419.30" y1="282.40" x2="419.30" y2="334.10" stroke="#5a5a5a" stroke-width="0.8" />
<line x1="398.20" y1="310.80" x2="449.70" y2="310.80" stroke="#5a5a5a" stroke-width="0.8" />
<line x1="397.40" y1="289.40" x2="399.00" y2="289.40" stroke="#222" stroke-width="0.7" />
<line x1="397.40" y1="299.60" x2="399.00" y2="299.60" stroke="#222" stroke-width="0.7" />
<line x1="397.40" y1="309.80" x2="399.00" y2="309.80" stroke="#222" stroke-width="0.7" />
<line x1="397.40" y1="320.00" x2="399.00" y2="320.00" stroke="#222" stroke-width="0.7" />
<line x1="397.40" y1="330.20" x2="399.00" y2="330.20" stroke="#222" stroke-width="0.7" />
<line x1="406.20" y1="333.50" x2="406.20" y2="335.00" stroke="#222" stroke-width="0.7" />
<line x1="418.20" y1="333.50" x2="418.20" y2="335.00" stroke="#222" stroke-width="0.7" />
<line x1="430.20" y1="333.50" x2="430.20" y2="335.00" stroke="#222" stroke-width="0.7" />
<line x1="442.20" y1="333.50" x2="442.20" y2="335.00" stroke="#222" stroke-width="0.7" />
<rect x="398.20" y="350.00" width="51.80" height="51.60" rx="1.2" fill="none" stroke="#666" stroke-width="0.9"/>
<line x1="398.20" y1="351.00" x2="398.20" y2="401.60" stroke="#333" stroke-width="1.0" />
<line x1="398.20" y1="401.60" x2="449.00" y2="401.60" stroke="#333" stroke-width="1.0" />
<line x1="417.40" y1="350.00" x2="417.40" y2="401.60" stroke="#5a5a5a" stroke-width="0.8" />
<line x1="398.20" y1="379.30" x2="450.00" y2="379.30" stroke="#5a5a5a" stroke-width="0.8" />
<line x1="397.40" y1="357.00" x2="399.00" y2="357.00" stroke="#222" stroke-width="0.7" />
<line x1="397.40" y1="367.20" x2="399.00" y2="367.20" stroke="#222" stroke-width="0.7" />
<line x1="397.40" y1="377.40" x2="399.00" y2="377.40" stroke="#222" stroke-width="0.7" />
<line x1="397.40" y1="387.60" x2="399.00" y2="387.60" stroke="#222" stroke-width="0.7" />
<line x1="397.40" y1="397.80" x2="399.00" y2="397.80" stroke="#222" stroke-width="0.7" />
<line x1="406.20" y1="401.00" x2="406.20" y2="402.50" stroke="#222" stroke-width="0.7" />
<line x1="418.20" y1="401.00" x2="418.20" y2="402.50" stroke="#222" stroke-width="0.7" />
<line x1="430.20" y1="401.00" x2="430.20" y2="402.50" stroke="#222" stroke-width="0.7" />
<line x1="442.20" y1="401.00" x2="442.20" y2="402.50" stroke="#222" stroke-width="0.7" />
<text x="487.80" y="277.80" font-size="7.1" text-anchor="middle" font-weight="normal" fill="#222" >CD19 CAR Tx</text>
<rect x="462.60" y="282.50" width="51.40" height="51.60" rx="1.2" fill="none" stroke="#666" stroke-width="0.9"/>
<line x1="462.60" y1="283.50" x2="462.60" y2="334.10" stroke="#333" stroke-width="1.0" />
<line x1="462.60" y1="334.10" x2="513.00" y2="334.10" stroke="#333" stroke-width="1.0" />
<line x1="479.40" y1="282.50" x2="479.40" y2="334.10" stroke="#5a5a5a" stroke-width="0.8" />
<line x1="462.60" y1="311.00" x2="514.00" y2="311.00" stroke="#5a5a5a" stroke-width="0.8" />
<line x1="461.80" y1="289.50" x2="463.40" y2="289.50" stroke="#222" stroke-width="0.7" />
<line x1="461.80" y1="299.70" x2="463.40" y2="299.70" stroke="#222" stroke-width="0.7" />
<line x1="461.80" y1="309.90" x2="463.40" y2="309.90" stroke="#222" stroke-width="0.7" />
<line x1="461.80" y1="320.10" x2="463.40" y2="320.10" stroke="#222" stroke-width="0.7" />
<line x1="461.80" y1="330.30" x2="463.40" y2="330.30" stroke="#222" stroke-width="0.7" />
<line x1="470.60" y1="333.50" x2="470.60" y2="335.00" stroke="#222" stroke-width="0.7" />
<line x1="482.60" y1="333.50" x2="482.60" y2="335.00" stroke="#222" stroke-width="0.7" />
<line x1="494.60" y1="333.50" x2="494.60" y2="335.00" stroke="#222" stroke-width="0.7" />
<line x1="506.60" y1="333.50" x2="506.60" y2="335.00" stroke="#222" stroke-width="0.7" />
<rect x="462.30" y="351.30" width="52.00" height="50.90" rx="1.2" fill="none" stroke="#666" stroke-width="0.9"/>
<line x1="462.30" y1="352.30" x2="462.30" y2="402.20" stroke="#333" stroke-width="1.0" />
<line x1="462.30" y1="402.20" x2="513.30" y2="402.20" stroke="#333" stroke-width="1.0" />
<line x1="481.50" y1="351.30" x2="481.50" y2="402.20" stroke="#5a5a5a" stroke-width="0.8" />
<line x1="462.30" y1="380.20" x2="514.30" y2="380.20" stroke="#5a5a5a" stroke-width="0.8" />
<line x1="461.50" y1="358.30" x2="463.10" y2="358.30" stroke="#222" stroke-width="0.7" />
<line x1="461.50" y1="368.50" x2="463.10" y2="368.50" stroke="#222" stroke-width="0.7" />
<line x1="461.50" y1="378.70" x2="463.10" y2="378.70" stroke="#222" stroke-width="0.7" />
<line x1="461.50" y1="388.90" x2="463.10" y2="388.90" stroke="#222" stroke-width="0.7" />
<line x1="461.50" y1="399.10" x2="463.10" y2="399.10" stroke="#222" stroke-width="0.7" />
<line x1="470.30" y1="401.60" x2="470.30" y2="403.10" stroke="#222" stroke-width="0.7" />
<line x1="482.30" y1="401.60" x2="482.30" y2="403.10" stroke="#222" stroke-width="0.7" />
<line x1="494.30" y1="401.60" x2="494.30" y2="403.10" stroke="#222" stroke-width="0.7" />
<line x1="506.30" y1="401.60" x2="506.30" y2="403.10" stroke="#222" stroke-width="0.7" />
<ellipse cx="362.5" cy="302.3" rx="13.6" ry="6.8" fill="url(#glight)" transform="rotate(18 362.5 302.3)" />
<ellipse cx="357.6" cy="300.3" rx="11.0" ry="6.3" fill="url(#gdark)" transform="rotate(12 357.6 300.3)" />
<ellipse cx="356.2" cy="300.3" rx="5.6" ry="1.2" fill="#ffffff" transform="rotate(8 356.2 300.3)" />
<ellipse cx="361.5" cy="301.5" rx="3.5" ry="0.8" fill="#e6e6f6" transform="rotate(12 361.5 301.5)" />
<ellipse cx="425.5" cy="302.0" rx="11.6" ry="7.3" fill="url(#glight)" transform="rotate(25 425.5 302.0)" />
<ellipse cx="421.6" cy="300.0" rx="9.6" ry="6.6" fill="url(#gdark)" transform="rotate(20 421.6 300.0)" />
<ellipse cx="422.2" cy="299.8" rx="3.0" ry="1.4" fill="#ffffff" transform="rotate(20 422.2 299.8)" />
<ellipse cx="426.5" cy="302.0" rx="2.5" ry="0.8" fill="#e0e0f4" transform="rotate(25 426.5 302.0)" />
<ellipse cx="482.0" cy="300.9" rx="9.8" ry="8.3" fill="url(#glight)" transform="rotate(0 482.0 300.9)" />
<ellipse cx="478.3" cy="301.0" rx="7.3" ry="7.7" fill="url(#gdark)" transform="rotate(0 478.3 301.0)" />
<ellipse cx="477.6" cy="301.0" rx="1.6" ry="1.4" fill="#ffffff" transform="rotate(0 477.6 301.0)" />
<ellipse cx="484.0" cy="300.5" rx="2.2" ry="0.9" fill="#f0f0fa" transform="rotate(-10 484.0 300.5)" />
<ellipse cx="362.8" cy="319.4" rx="15.8" ry="4.8" fill="url(#gredL)" transform="rotate(-2 362.8 319.4)" />
<ellipse cx="361.0" cy="319.7" rx="10.0" ry="1.0" fill="#ff9a9a" transform="rotate(-2 361.0 319.7)" />
<ellipse cx="428.0" cy="317.4" rx="15.8" ry="4.9" fill="url(#gredL)" transform="rotate(-6 428.0 317.4)" />
<ellipse cx="427.0" cy="317.6" rx="9.5" ry="1.0" fill="#ff9a9a" transform="rotate(-6 427.0 317.6)" />
<ellipse cx="484.4" cy="318.5" rx="11.9" ry="4.7" fill="url(#gredF)" transform="rotate(-3 484.4 318.5)" />
<ellipse cx="480.5" cy="319.8" rx="5.5" ry="0.9" fill="#ffb0b0" transform="rotate(-3 480.5 319.8)" />
<ellipse cx="353.5" cy="386" rx="6.5" ry="5.5" fill="url(#ghalo)"/>
<ellipse cx="363" cy="377" rx="5.5" ry="5" fill="url(#ghalo)" fill-opacity="0.25"/>
<ellipse cx="361" cy="390" rx="7" ry="4" fill="url(#ghalo)" fill-opacity="0.5"/>
<ellipse cx="362.7" cy="385.4" rx="7.3" ry="6.9" fill="url(#gblk)"/>
<ellipse cx="413.5" cy="386.8" rx="4.5" ry="4.2" fill="url(#ghalo)"/>
<ellipse cx="421.6" cy="386.8" rx="9.8" ry="4.6" fill="url(#gblk)" transform="rotate(-3 421.6 386.8)"/>
<ellipse cx="477.5" cy="382" rx="2.8" ry="8" fill="url(#ghalo)"/>
<ellipse cx="487" cy="372.5" rx="11.5" ry="9" fill="url(#ghalo)"/>
<ellipse cx="477.8" cy="381" rx="3" ry="6" fill="none" stroke="#aaa" stroke-width="0.5"/>
<ellipse cx="478.2" cy="368.6" rx="4.4" ry="7.5" fill="url(#gblk)"/>
<ellipse cx="489.6" cy="366.6" rx="8.3" ry="6.4" fill="url(#gcres)" transform="rotate(-18 489.6 366.6)"/>
<text x="334.70" y="355.30" font-size="5.9" text-anchor="start" font-weight="normal" fill="#222" >0</text>
<text x="384.40" y="355.30" font-size="5.9" text-anchor="end" font-weight="normal" fill="#222" >0.46</text>
<text x="334.70" y="399.70" font-size="5.9" text-anchor="start" font-weight="normal" fill="#222" >2.13</text>
<text x="384.40" y="399.70" font-size="5.9" text-anchor="end" font-weight="normal" fill="#222" >97.4</text>
<text x="399.50" y="355.90" font-size="5.9" text-anchor="start" font-weight="normal" fill="#222" >0</text>
<text x="448.80" y="355.90" font-size="5.9" text-anchor="end" font-weight="normal" fill="#222" >0.068</text>
<text x="399.50" y="400.20" font-size="5.9" text-anchor="start" font-weight="normal" fill="#222" >11.0</text>
<text x="448.80" y="400.20" font-size="5.9" text-anchor="end" font-weight="normal" fill="#222" >88.9</text>
<text x="463.60" y="357.20" font-size="5.9" text-anchor="start" font-weight="normal" fill="#222" >34.4</text>
<text x="513.10" y="357.20" font-size="5.9" text-anchor="end" font-weight="normal" fill="#222" >63.0</text>
<text x="463.60" y="400.80" font-size="5.9" text-anchor="start" font-weight="normal" fill="#222" >1.66</text>
<text x="513.10" y="400.80" font-size="5.9" text-anchor="end" font-weight="normal" fill="#222" >0.95</text>
<text x="0" y="0" font-size="6.6" text-anchor="middle" fill="#222" transform="translate(327.6 329.6) rotate(-90)">CD8</text>
<line x1="325.4" y1="320.5" x2="325.4" y2="284" stroke="#111" stroke-width="0.8" marker-end="url(#arr)"/>
<text x="0" y="0" font-size="6.6" text-anchor="middle" fill="#222" transform="translate(327.6 390.3) rotate(-90)">CD79b</text>
<line x1="325.4" y1="378" x2="325.4" y2="350" stroke="#111" stroke-width="0.8" marker-end="url(#arr)"/>
<text x="336.60" y="344.80" font-size="6.6" text-anchor="start" font-weight="normal" fill="#222" >CD79ab-Fc</text>
<line x1="372" y1="342.7" x2="448" y2="342.7" stroke="#111" stroke-width="0.8" marker-end="url(#arr)"/>
<text x="462.70" y="344.80" font-size="6.6" text-anchor="start" font-weight="normal" fill="#222" >STII</text>
<line x1="476.9" y1="342.7" x2="514" y2="342.7" stroke="#111" stroke-width="0.8" marker-end="url(#arr)"/>
<text x="330.20" y="412.20" font-size="6.6" text-anchor="start" font-weight="normal" fill="#222" >CD19</text>
<line x1="350.5" y1="410" x2="515.5" y2="410" stroke="#111" stroke-width="0.8" marker-end="url(#arr)"/>
<rect x="0.5" y="0.5" width="519" height="416" fill="none" stroke="#555" stroke-width="1.1"/>
</svg>
</body></html>
